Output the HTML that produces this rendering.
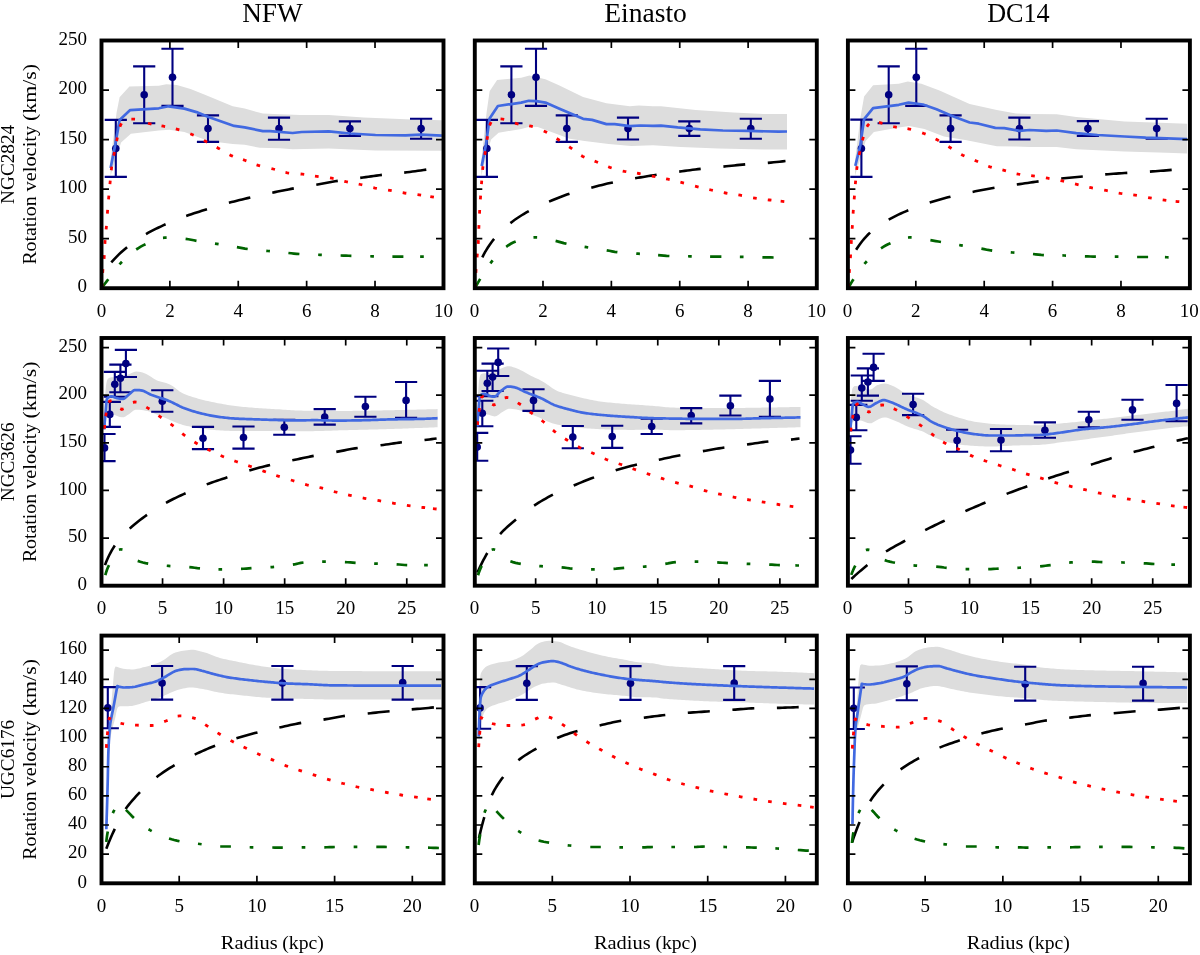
<!DOCTYPE html>
<html><head><meta charset="utf-8"><title>Rotation curves</title>
<style>
html,body{margin:0;padding:0;background:#fff;}
body{width:1200px;height:955px;overflow:hidden;}
svg{display:block;will-change:transform;}
svg text{font-family:"Liberation Serif",serif;fill:#000;}
</style></head><body>
<svg width="1200" height="955" viewBox="0 0 1200 955">
<rect width="1200" height="955" fill="#ffffff"/>
<defs>
<clipPath id="c00"><rect x="101.5" y="40.5" width="342" height="247.7"/></clipPath>
<clipPath id="c01"><rect x="474.8" y="40.5" width="342" height="247.7"/></clipPath>
<clipPath id="c02"><rect x="847.9" y="40.5" width="342" height="247.7"/></clipPath>
<clipPath id="c10"><rect x="101.5" y="338" width="342" height="247.7"/></clipPath>
<clipPath id="c11"><rect x="474.8" y="338" width="342" height="247.7"/></clipPath>
<clipPath id="c12"><rect x="847.9" y="338" width="342" height="247.7"/></clipPath>
<clipPath id="c20"><rect x="101.5" y="635.6" width="342" height="247.7"/></clipPath>
<clipPath id="c21"><rect x="474.8" y="635.6" width="342" height="247.7"/></clipPath>
<clipPath id="c22"><rect x="847.9" y="635.6" width="342" height="247.7"/></clipPath>
</defs>
<g clip-path="url(#c00)">
<path d="M110.6 160 L111.3 154.6 L116.6 112.4 L119.6 97.3 L129.4 86.4 L158.8 85.7 L166.3 84.2 L176.9 84.9 L190.5 89 L205.5 95 L232.7 106.3 L244.7 108.6 L262.8 113.6 L280 114.2 L300.2 115 L328.8 115 L363.5 117.6 L405.7 119.2 L441.9 120.2 L441.9 150.8 L375.5 150.5 L328.8 148.5 L292.6 149.2 L280 148.2 L259.8 147.8 L244.7 144.8 L232.7 144 L208.5 141 L196.5 136.5 L184.4 132 L169.3 129.7 L158.8 130.5 L130.9 133.8 L121.1 142.5 L115.1 160.6 L110.6 175.7 Z" fill="#dddddd" stroke="none"/>
<path d="M115.8 119.9 V176.9 M104.7 119.9 H126.9 M104.7 176.9 H126.9 M144.2 66.4 V123.2 M133.1 66.4 H155.3 M133.1 123.2 H155.3 M172.5 48.7 V105.9 M161.4 48.7 H183.6 M161.4 105.9 H183.6 M208 115.4 V141.9 M196.9 115.4 H219.1 M196.9 141.9 H219.1 M279 117.6 V139.8 M267.9 117.6 H290.1 M267.9 139.8 H290.1 M349.9 121.4 V135.9 M338.8 121.4 H361 M338.8 135.9 H361 M421.1 118.7 V138.7 M410 118.7 H432.2 M410 138.7 H432.2" fill="none" stroke="#000080" stroke-width="2.1"/>
<circle cx="115.8" cy="148.5" r="3.8" fill="#000080"/>
<circle cx="144.2" cy="94.7" r="3.8" fill="#000080"/>
<circle cx="172.5" cy="77.2" r="3.8" fill="#000080"/>
<circle cx="208" cy="128.6" r="3.8" fill="#000080"/>
<circle cx="279" cy="128.5" r="3.8" fill="#000080"/>
<circle cx="349.9" cy="128.6" r="3.8" fill="#000080"/>
<circle cx="421.1" cy="128.6" r="3.8" fill="#000080"/>
<path d="M110.6 168.1 L115.1 145.5 L119.6 119.9 L130.2 110.1 L158.8 108.3 L168.6 106.3 L184.4 108.6 L196.5 112.1 L208.5 116.9 L234.2 125.9 L244.7 127.4 L262.8 131.1 L270 131.2 L292.6 133 L301.7 132 L328.8 131.4 L349.9 133.5 L375.5 135 L405.7 135.3 L420.8 134.7 L441.9 135.6" fill="none" stroke="#4169e1" stroke-width="2.7" stroke-linejoin="round"/>
<path d="M111.3 262.3 L113.15 260.28 L115.03 258.3 L116.95 256.35 L118.91 254.44 L120.9 252.57 L122.93 250.74 L125 248.95 L127.1 247.2 M146 234.1 L148.38 232.74 L150.79 231.43 L153.22 230.17 L155.67 228.94 L158.13 227.74 L160.61 226.57 L163.1 225.43 L165.6 224.3 M186.2 216 L188.78 215.08 L191.36 214.19 L193.96 213.33 L196.56 212.48 L199.17 211.64 L201.77 210.82 L204.39 210.01 L207 209.2 M228.9 202.8 L231.56 202.09 L234.23 201.4 L236.9 200.72 L239.58 200.06 L242.25 199.41 L244.93 198.76 L247.62 198.13 L250.3 197.5 M272.3 192.7 L274.98 192.14 L277.67 191.58 L280.35 191.03 L283.04 190.48 L285.72 189.94 L288.41 189.41 L291.1 188.9 L293.8 188.4 M316.3 184.7 L318.99 184.23 L321.67 183.74 L324.36 183.25 L327.04 182.75 L329.73 182.26 L332.41 181.79 L335.1 181.33 L337.8 180.9 M360.2 177.9 L362.91 177.52 L365.62 177.14 L368.33 176.74 L371.04 176.35 L373.75 175.97 L376.47 175.59 L379.18 175.23 L381.9 174.9 M404.2 172.6 L406.97 172.27 L409.73 171.92 L412.5 171.57 L415.26 171.19 L418.02 170.81 L420.78 170.42 L423.54 170.01 L426.3 169.6" fill="none" stroke="#000" stroke-width="2.6"/>
<path d="M101.8 287.8 L103.42 285.65 L105.04 283.49 L106.67 281.35 L108.3 279.2 M119.47 264.46 L120.7 263.1 L121.96 261.77 M136.2 249.5 L138.44 248.02 L140.73 246.64 L143.08 245.35 L145.5 244.2 M162.97 237.79 L164.8 237.7 L166.63 237.71 M185.6 238.9 L188.34 239.26 L191.07 239.75 L193.78 240.3 L196.5 240.8 M214.99 243.62 L216.8 243.9 L218.61 244.19 M236.9 247.2 L239.6 247.67 L242.29 248.15 L244.99 248.61 L247.7 249 M266.27 250.82 L268.1 251 L269.93 251.18 M288.4 253 L291.15 253.27 L293.9 253.55 L296.65 253.8 L299.4 254 M318.17 254.74 L320 254.8 L321.83 254.87 M340.6 255.5 L343.3 255.58 L346 255.66 L348.7 255.73 L351.4 255.8 M370.27 256.26 L372.1 256.3 L373.93 256.33 M392.4 256.6 L395.15 256.6 L397.9 256.6 L400.65 256.6 L403.4 256.6 M420.13 256.67 L421.97 256.69 L423.8 256.7" fill="none" stroke="#006400" stroke-width="2.7"/>
<path d="M101.9 287.5 L101.96 285.67 L102.04 283.83 M102.67 272.83 L102.8 271 L102.95 269.17 M104.05 258.83 L104.2 257 L104.32 255.17 M104.89 243.83 L105 242 L105.13 240.17 M106.14 229.43 L106.3 227.6 L106.45 225.77 M107.36 213.63 L107.5 211.8 L107.65 209.97 M108.54 199.33 L108.7 197.5 L108.86 195.67 M109.92 184.23 L110.1 182.4 L110.27 180.57 M111.28 170.22 L111.5 168.4 L111.75 166.58 M113.74 155.64 L114.11 153.84 L114.48 152.04 M116.64 141.13 L117.01 139.33 L117.38 137.54 M119.94 126.71 L120.6 125 L121.47 123.38 M131.37 119.11 L133.2 119.1 L135.03 119.21 M147.92 123.24 L149.7 123.7 L151.5 124.08 M161.5 125.86 L163.3 126.2 L165.1 126.56 M175.82 128.84 L177.6 129.3 L179.36 129.8 M190.31 133.79 L192 134.5 L193.68 135.24 M203.88 140.45 L205.5 141.3 L207.13 142.15 M216.69 147.31 L218.3 148.2 L219.89 149.12 M229.54 154.83 L231.2 155.6 L232.9 156.29 M242.97 159.6 L244.7 160.2 L246.42 160.84 M256.55 164.84 L258.3 165.4 L260.07 165.9 M271.42 168.56 L273.2 169 L274.97 169.48 M285.49 172.49 L287.3 172.8 L289.12 173.03 M300.58 174.01 L302.4 174.2 L304.22 174.43 M314.98 176.14 L316.8 176.4 L318.62 176.63 M329.99 177.93 L331.8 178.2 L333.6 178.53 M344.31 181.28 L346.1 181.7 L347.9 182.08 M358.7 184.12 L360.5 184.5 L362.29 184.91 M373.3 187.74 L375.1 188.1 L376.91 188.42 M388.09 190.02 L389.9 190.3 L391.71 190.61 M402.69 192.71 L404.5 193 L406.32 193.25 M417.48 194.56 L419.3 194.8 L421.12 195.06 M430.29 196.55 L432.1 196.87 L433.9 197.2" fill="none" stroke="#ff0000" stroke-width="2.8"/>
</g>
<path d="M101.5 288.2 v-7.5 M101.5 40.5 v7.5 M169.88 288.2 v-7.5 M169.88 40.5 v7.5 M238.26 288.2 v-7.5 M238.26 40.5 v7.5 M306.64 288.2 v-7.5 M306.64 40.5 v7.5 M375.02 288.2 v-7.5 M375.02 40.5 v7.5 M443.4 288.2 v-7.5 M443.4 40.5 v7.5 M101.5 288.2 h7.5 M443.5 288.2 h-7.5 M101.5 238.66 h7.5 M443.5 238.66 h-7.5 M101.5 189.12 h7.5 M443.5 189.12 h-7.5 M101.5 139.58 h7.5 M443.5 139.58 h-7.5 M101.5 90.04 h7.5 M443.5 90.04 h-7.5 M101.5 40.5 h7.5 M443.5 40.5 h-7.5" fill="none" stroke="#000" stroke-width="1.7"/>
<rect x="101.5" y="40.5" width="342" height="247.7" fill="none" stroke="#000" stroke-width="3.9"/>
<text x="101.5" y="317" font-size="19.7" text-anchor="middle" textLength="9.5" lengthAdjust="spacingAndGlyphs">0</text>
<text x="169.88" y="317" font-size="19.7" text-anchor="middle" textLength="9.5" lengthAdjust="spacingAndGlyphs">2</text>
<text x="238.26" y="317" font-size="19.7" text-anchor="middle" textLength="9.5" lengthAdjust="spacingAndGlyphs">4</text>
<text x="306.64" y="317" font-size="19.7" text-anchor="middle" textLength="9.5" lengthAdjust="spacingAndGlyphs">6</text>
<text x="375.02" y="317" font-size="19.7" text-anchor="middle" textLength="9.5" lengthAdjust="spacingAndGlyphs">8</text>
<text x="443.4" y="317" font-size="19.7" text-anchor="middle" textLength="19" lengthAdjust="spacingAndGlyphs">10</text>
<text x="87" y="292.4" font-size="19.7" text-anchor="end" textLength="9.5" lengthAdjust="spacingAndGlyphs">0</text>
<text x="87" y="242.86" font-size="19.7" text-anchor="end" textLength="19" lengthAdjust="spacingAndGlyphs">50</text>
<text x="87" y="193.32" font-size="19.7" text-anchor="end" textLength="28.5" lengthAdjust="spacingAndGlyphs">100</text>
<text x="87" y="143.78" font-size="19.7" text-anchor="end" textLength="28.5" lengthAdjust="spacingAndGlyphs">150</text>
<text x="87" y="94.24" font-size="19.7" text-anchor="end" textLength="28.5" lengthAdjust="spacingAndGlyphs">200</text>
<text x="87" y="44.7" font-size="19.7" text-anchor="end" textLength="28.5" lengthAdjust="spacingAndGlyphs">250</text>
<text x="272.45" y="22" font-size="26.5" text-anchor="middle" textLength="60.5" lengthAdjust="spacingAndGlyphs">NFW</text>
<g clip-path="url(#c01)">
<path d="M481.3 160.6 L486.6 112.4 L489.6 91.3 L497.1 80 L521.2 77.7 L529.5 75.4 L545.4 79.2 L558.9 85.2 L583.1 97 L606.4 103.3 L629.8 106.3 L638.8 105.6 L653 106.3 L661 106.3 L695.8 110.1 L733.5 112.4 L763.6 113.9 L787 113.9 L787 149.6 L763.6 149.6 L718.4 148.5 L680.7 147 L653 145.2 L631.3 146 L608.7 144 L584.6 141 L569.5 138.8 L551.4 132 L537.8 127.1 L529.5 126.7 L521.2 129 L498.6 132.7 L491.1 139.5 L486.6 154.6 L481.3 175.7 Z" fill="#dddddd" stroke="none"/>
<path d="M486.9 119.9 V176.9 M475.8 119.9 H498 M475.8 176.9 H498 M511.4 66.4 V123.2 M500.3 66.4 H522.5 M500.3 123.2 H522.5 M536 48.7 V105.9 M524.9 48.7 H547.1 M524.9 105.9 H547.1 M566.8 115.4 V141.9 M555.7 115.4 H577.9 M555.7 141.9 H577.9 M628 117.6 V139.5 M616.9 117.6 H639.1 M616.9 139.5 H639.1 M689.3 121.4 V135.9 M678.2 121.4 H700.4 M678.2 135.9 H700.4 M750.8 118.7 V138.7 M739.7 118.7 H761.9 M739.7 138.7 H761.9" fill="none" stroke="#000080" stroke-width="2.1"/>
<circle cx="486.9" cy="148.5" r="3.8" fill="#000080"/>
<circle cx="511.4" cy="94.7" r="3.8" fill="#000080"/>
<circle cx="536" cy="77.2" r="3.8" fill="#000080"/>
<circle cx="566.8" cy="128.6" r="3.8" fill="#000080"/>
<circle cx="628" cy="128.6" r="3.8" fill="#000080"/>
<circle cx="689.3" cy="128.6" r="3.8" fill="#000080"/>
<circle cx="750.8" cy="128.6" r="3.8" fill="#000080"/>
<path d="M481.7 165.9 L485.8 145.5 L489.6 118.4 L497.9 106 L521.2 102.6 L528.8 100.8 L536.3 101.1 L545.4 102.6 L558.9 108.6 L583.1 118.8 L592.1 119.9 L606.4 124.1 L614.7 124.1 L629.8 126.2 L640.3 125.5 L653 125.9 L661 125.6 L677.7 127.4 L700.3 129.3 L722.9 130.5 L748.5 130.9 L778.7 131.7 L787 131.5" fill="none" stroke="#4169e1" stroke-width="2.7" stroke-linejoin="round"/>
<path d="M482.3 257.3 L483.55 254.86 L484.87 252.46 L486.25 250.1 L487.7 247.78 L489.21 245.49 L490.78 243.25 L492.41 241.05 L494.1 238.9 M510.4 223.1 L512.58 221.42 L514.8 219.8 L517.06 218.24 L519.35 216.72 L521.67 215.25 L524.03 213.83 L526.4 212.44 L528.8 211.1 M549.1 201.6 L551.62 200.53 L554.14 199.48 L556.67 198.44 L559.21 197.42 L561.76 196.44 L564.33 195.48 L566.91 194.57 L569.5 193.7 M591.3 187.7 L593.99 187 L596.68 186.3 L599.37 185.61 L602.07 184.93 L604.77 184.26 L607.47 183.61 L610.18 182.99 L612.9 182.4 M635.1 178.3 L637.78 177.84 L640.47 177.38 L643.15 176.94 L645.84 176.49 L648.53 176.06 L651.22 175.63 L653.91 175.21 L656.6 174.8 M679.2 171.6 L681.89 171.24 L684.57 170.88 L687.26 170.52 L689.94 170.17 L692.63 169.82 L695.32 169.48 L698.01 169.16 L700.7 168.85 M723.4 166.6 L726.12 166.32 L728.85 166.02 L731.57 165.72 L734.29 165.42 L737.02 165.13 L739.74 164.85 L742.47 164.59 L745.2 164.35 M767.8 162.85 L770.75 162.6 L773.71 162.32 L776.66 162.03 L779.61 161.72 L782.55 161.39 L785.5 161.05" fill="none" stroke="#000" stroke-width="2.6"/>
<path d="M475.1 287.8 L476.34 285.55 L477.59 283.32 L478.88 281.1 L480.2 278.9 M490.37 263.35 L491.5 261.9 L492.65 260.47 M506.2 246.8 L508.44 245.24 L510.76 243.79 L513.17 242.52 L515.7 241.5 M533.47 237.45 L535.3 237.4 L537.13 237.45 M555.6 240.9 L558.34 241.58 L561.05 242.35 L563.76 243.13 L566.5 243.8 M584.59 246.91 L586.4 247.2 L588.21 247.49 M606.7 250.3 L609.37 250.79 L612.04 251.33 L614.71 251.82 L617.4 252.2 M636.27 253.57 L638.1 253.7 L639.93 253.83 M658.1 255.1 L660.92 255.35 L663.75 255.62 L666.57 255.86 L669.4 256 M688.07 256.27 L689.9 256.3 L691.73 256.33 M710.1 256.6 L712.92 256.63 L715.75 256.65 L718.57 256.68 L721.4 256.7 M739.87 256.88 L741.7 256.9 L743.53 256.93 M762.4 257.3 L765.2 257.35 L768 257.4 L770.8 257.45 L773.6 257.5" fill="none" stroke="#006400" stroke-width="2.7"/>
<path d="M475.1 287.5 L475.18 285.67 L475.27 283.83 M475.88 272.83 L476 271 L476.12 269.17 M477.05 257.33 L477.2 255.5 L477.35 253.67 M478.19 243.83 L478.3 242 L478.39 240.17 M478.83 228.73 L478.9 226.9 L478.98 225.07 M479.5 213.63 L479.6 211.8 L479.7 209.97 M480.38 199.33 L480.5 197.5 L480.62 195.67 M481.46 184.23 L481.6 182.4 L481.74 180.57 M482.61 169.93 L482.8 168.1 L483.02 166.28 M484.82 154.91 L485.1 153.1 L485.36 151.28 M487 139.81 L487.3 138 L487.6 136.19 M489.67 125.42 L490.3 123.7 L491.17 122.09 M500.57 118.91 L502.4 119.1 L504.21 119.41 M514.93 123.22 L516.7 123.7 L518.5 124.07 M529.21 125.81 L531 126.2 L532.77 126.67 M543.74 130.92 L545.4 131.7 L547.04 132.52 M556.66 138.51 L558.2 139.5 L559.75 140.49 M569.19 146.76 L570.7 147.8 L572.19 148.87 M581.2 155.5 L582.8 156.4 L584.45 157.21 M594.59 161.13 L596.3 161.8 L597.99 162.51 M608.17 166.79 L609.9 167.4 L611.64 167.97 M622.7 171.03 L624.5 171.4 L626.31 171.72 M636.99 173.21 L638.8 173.5 L640.61 173.81 M651.8 176.04 L653.6 176.4 L655.4 176.75 M666.1 178.82 L667.9 179.2 L669.69 179.59 M680.42 182.15 L682.2 182.6 L683.98 183.06 M695.02 186.14 L696.8 186.6 L698.58 187.05 M709.31 189.6 L711.1 190 L712.89 190.4 M723.79 192.67 L725.6 193 L727.41 193.3 M738.39 194.9 L740.2 195.2 L742 195.54 M753.09 197.9 L754.9 198.2 L756.72 198.47 M767.78 199.79 L769.6 200 L771.42 200.21 M780.65 201.22 L782.47 201.41 L784.3 201.6" fill="none" stroke="#ff0000" stroke-width="2.8"/>
</g>
<path d="M474.6 288.2 v-7.5 M474.6 40.5 v7.5 M542.98 288.2 v-7.5 M542.98 40.5 v7.5 M611.36 288.2 v-7.5 M611.36 40.5 v7.5 M679.74 288.2 v-7.5 M679.74 40.5 v7.5 M748.12 288.2 v-7.5 M748.12 40.5 v7.5 M816.5 288.2 v-7.5 M816.5 40.5 v7.5 M474.8 288.2 h7.5 M816.8 288.2 h-7.5 M474.8 238.66 h7.5 M816.8 238.66 h-7.5 M474.8 189.12 h7.5 M816.8 189.12 h-7.5 M474.8 139.58 h7.5 M816.8 139.58 h-7.5 M474.8 90.04 h7.5 M816.8 90.04 h-7.5 M474.8 40.5 h7.5 M816.8 40.5 h-7.5" fill="none" stroke="#000" stroke-width="1.7"/>
<rect x="474.8" y="40.5" width="342" height="247.7" fill="none" stroke="#000" stroke-width="3.9"/>
<text x="474.6" y="317" font-size="19.7" text-anchor="middle" textLength="9.5" lengthAdjust="spacingAndGlyphs">0</text>
<text x="542.98" y="317" font-size="19.7" text-anchor="middle" textLength="9.5" lengthAdjust="spacingAndGlyphs">2</text>
<text x="611.36" y="317" font-size="19.7" text-anchor="middle" textLength="9.5" lengthAdjust="spacingAndGlyphs">4</text>
<text x="679.74" y="317" font-size="19.7" text-anchor="middle" textLength="9.5" lengthAdjust="spacingAndGlyphs">6</text>
<text x="748.12" y="317" font-size="19.7" text-anchor="middle" textLength="9.5" lengthAdjust="spacingAndGlyphs">8</text>
<text x="816.5" y="317" font-size="19.7" text-anchor="middle" textLength="19" lengthAdjust="spacingAndGlyphs">10</text>
<text x="645.55" y="22" font-size="26.5" text-anchor="middle" textLength="82.7" lengthAdjust="spacingAndGlyphs">Einasto</text>
<g clip-path="url(#c02)">
<path d="M855 160.6 L860.3 118.4 L864.1 96.5 L873.1 85.2 L898.8 83.7 L907.8 81.5 L921.4 83.7 L939.5 90.5 L969.6 104.1 L996.8 110.1 L1016 113.4 L1029.6 113.9 L1056.7 114.2 L1076.3 116.9 L1124.5 121.4 L1166.8 122.9 L1187.1 123.7 L1187.1 153.4 L1166.8 152.8 L1124.5 151.6 L1076.3 149.3 L1056.7 147 L1029.6 147 L1016 146.5 L996.8 146.3 L966.6 140.3 L944 136.5 L924.4 129 L909.3 125.9 L898.8 127.4 L873.9 132 L865.6 141 L861.1 156.1 L855 175.7 Z" fill="#dddddd" stroke="none"/>
<path d="M861.4 119.6 V176.9 M850.3 119.6 H872.5 M850.3 176.9 H872.5 M888.7 66.4 V123.2 M877.6 66.4 H899.8 M877.6 123.2 H899.8 M916.3 48.7 V105.9 M905.2 48.7 H927.4 M905.2 105.9 H927.4 M950.6 115.4 V141.9 M939.5 115.4 H961.7 M939.5 141.9 H961.7 M1019.4 117.6 V139.5 M1008.3 117.6 H1030.5 M1008.3 139.5 H1030.5 M1087.9 121.1 V135.9 M1076.8 121.1 H1099 M1076.8 135.9 H1099 M1156.7 118.7 V138.7 M1145.6 118.7 H1167.8 M1145.6 138.7 H1167.8" fill="none" stroke="#000080" stroke-width="2.1"/>
<circle cx="861.4" cy="148.5" r="3.8" fill="#000080"/>
<circle cx="888.7" cy="94.7" r="3.8" fill="#000080"/>
<circle cx="916.3" cy="77.2" r="3.8" fill="#000080"/>
<circle cx="950.6" cy="128.6" r="3.8" fill="#000080"/>
<circle cx="1019.4" cy="128.6" r="3.8" fill="#000080"/>
<circle cx="1087.9" cy="128.6" r="3.8" fill="#000080"/>
<circle cx="1156.7" cy="128.6" r="3.8" fill="#000080"/>
<path d="M855.3 165.9 L860.3 145.5 L864.1 119.1 L873.1 108.1 L898.8 104.8 L908.6 102.6 L922.9 104.5 L936.5 109.3 L951.5 115.8 L969.6 122.5 L978.7 123.7 L995.3 127.9 L1004.3 128.2 L1019.4 130.8 L1029.6 130 L1046.2 130.8 L1056.7 130.5 L1076.3 133.2 L1097.4 135 L1124.5 136.5 L1145.7 137.7 L1166.8 138.3 L1187.1 139.1" fill="none" stroke="#4169e1" stroke-width="2.7" stroke-linejoin="round"/>
<path d="M856.1 249.8 L857.59 247.45 L859.16 245.16 L860.8 242.91 L862.52 240.72 L864.3 238.59 L866.16 236.53 L868.09 234.53 L870.1 232.6 M888.7 219.6 L891.07 218.29 L893.48 217.03 L895.91 215.81 L898.35 214.65 L900.82 213.51 L903.3 212.42 L905.8 211.35 L908.3 210.3 M929.7 202.5 L932.28 201.7 L934.86 200.92 L937.45 200.16 L940.05 199.43 L942.66 198.72 L945.27 198.02 L947.88 197.35 L950.5 196.7 M972.6 191.9 L975.33 191.34 L978.06 190.79 L980.8 190.24 L983.53 189.7 L986.27 189.17 L989.01 188.66 L991.75 188.17 L994.5 187.7 M1016.8 184.5 L1019.52 184.11 L1022.25 183.72 L1024.97 183.32 L1027.7 182.93 L1030.42 182.54 L1033.15 182.15 L1035.87 181.77 L1038.6 181.4 M1061.2 178.5 L1063.9 178.23 L1066.6 177.97 L1069.3 177.73 L1072 177.49 L1074.7 177.26 L1077.4 177.03 L1080.1 176.79 L1082.8 176.55 M1105.2 174.4 L1107.96 174.19 L1110.72 173.98 L1113.48 173.79 L1116.25 173.6 L1119.01 173.42 L1121.77 173.25 L1124.54 173.07 L1127.3 172.9 M1149.9 171.6 L1152.63 171.41 L1155.35 171.22 L1158.08 171.02 L1160.8 170.81 L1163.53 170.59 L1166.25 170.37 L1168.98 170.14 L1171.7 169.9" fill="none" stroke="#000" stroke-width="2.6"/>
<path d="M848.5 287.8 L849.69 285.62 L850.92 283.45 L852.18 281.31 L853.5 279.2 M864.4 263.99 L865.6 262.6 L866.82 261.23 M881 248.3 L883.27 246.84 L885.62 245.5 L888.03 244.28 L890.5 243.2 M907.97 237.48 L909.8 237.4 L911.63 237.44 M930.4 240.2 L933.05 240.63 L935.7 241.08 L938.35 241.54 L941 242 M959.19 245 L961 245.3 L962.81 245.6 M981.4 248.7 L984.1 249.19 L986.79 249.71 L989.49 250.2 L992.2 250.6 M1010.77 252.35 L1012.6 252.5 L1014.43 252.65 M1033 254 L1035.72 254.29 L1038.44 254.62 L1041.17 254.92 L1043.9 255.1 M1062.37 255.46 L1064.2 255.5 L1066.03 255.55 M1084.9 256.3 L1087.65 256.39 L1090.4 256.48 L1093.15 256.56 L1095.9 256.6 M1114.77 256.69 L1116.6 256.7 L1118.43 256.72 M1137.1 257 L1139.85 257 L1142.6 257 L1145.35 257 L1148.1 257 M1164.93 257.21 L1166.77 257.26 L1168.6 257.3" fill="none" stroke="#006400" stroke-width="2.7"/>
<path d="M848.5 287.5 L848.58 285.67 L848.67 283.83 M849.29 272.83 L849.4 271 L849.52 269.17 M850.38 258.13 L850.5 256.3 L850.61 254.47 M851.19 243.83 L851.3 242 L851.41 240.17 M852.18 228.73 L852.3 226.9 L852.41 225.07 M853.08 213.63 L853.2 211.8 L853.33 209.97 M854.16 199.33 L854.3 197.5 L854.44 195.67 M855.34 184.23 L855.5 182.4 L855.66 180.57 M856.68 169.92 L856.9 168.1 L857.15 166.28 M859.24 154.9 L859.6 153.1 L859.96 151.3 M862.41 140.47 L862.9 138.7 L863.39 136.93 M866.9 126.74 L867.9 125.2 L869.13 123.84 M878.92 122.46 L880.7 122.9 L882.48 123.35 M893.21 126.61 L895 127 L896.81 127.31 M907.49 128.68 L909.3 129 L911.09 129.38 M922.18 132.86 L923.9 133.5 L925.61 134.17 M935.58 138.94 L937.2 139.8 L938.81 140.68 M948.44 146.54 L950 147.5 L951.56 148.46 M961.18 154.44 L962.8 155.3 L964.45 156.1 M974.71 160.35 L976.4 161.05 L978.08 161.79 M988.26 166.26 L990 166.85 L991.76 167.38 M1002.42 169.96 L1004.2 170.4 L1005.97 170.88 M1016.6 173.81 L1018.4 174.15 L1020.21 174.43 M1031.18 175.67 L1033 175.9 L1034.82 176.15 M1045.89 177.89 L1047.7 178.2 L1049.51 178.51 M1060.5 180.53 L1062.3 180.9 L1064.09 181.29 M1075.02 183.97 L1076.8 184.4 L1078.59 184.82 M1089.3 187.32 L1091.1 187.7 L1092.9 188.05 M1104.2 190.06 L1106 190.4 L1107.8 190.76 M1118.69 193.1 L1120.5 193.4 L1122.32 193.66 M1133.28 194.95 L1135.1 195.2 L1136.91 195.48 M1148.09 197.59 L1149.9 197.9 L1151.71 198.2 M1162.68 199.86 L1164.5 200.1 L1166.32 200.33 M1175.65 201.36 L1177.47 201.54 L1179.3 201.7" fill="none" stroke="#ff0000" stroke-width="2.8"/>
</g>
<path d="M847.45 288.2 v-7.5 M847.45 40.5 v7.5 M915.83 288.2 v-7.5 M915.83 40.5 v7.5 M984.21 288.2 v-7.5 M984.21 40.5 v7.5 M1052.59 288.2 v-7.5 M1052.59 40.5 v7.5 M1120.97 288.2 v-7.5 M1120.97 40.5 v7.5 M1189.35 288.2 v-7.5 M1189.35 40.5 v7.5 M847.9 288.2 h7.5 M1189.9 288.2 h-7.5 M847.9 238.66 h7.5 M1189.9 238.66 h-7.5 M847.9 189.12 h7.5 M1189.9 189.12 h-7.5 M847.9 139.58 h7.5 M1189.9 139.58 h-7.5 M847.9 90.04 h7.5 M1189.9 90.04 h-7.5 M847.9 40.5 h7.5 M1189.9 40.5 h-7.5" fill="none" stroke="#000" stroke-width="1.7"/>
<rect x="847.9" y="40.5" width="342" height="247.7" fill="none" stroke="#000" stroke-width="3.9"/>
<text x="847.45" y="317" font-size="19.7" text-anchor="middle" textLength="9.5" lengthAdjust="spacingAndGlyphs">0</text>
<text x="915.83" y="317" font-size="19.7" text-anchor="middle" textLength="9.5" lengthAdjust="spacingAndGlyphs">2</text>
<text x="984.21" y="317" font-size="19.7" text-anchor="middle" textLength="9.5" lengthAdjust="spacingAndGlyphs">4</text>
<text x="1052.59" y="317" font-size="19.7" text-anchor="middle" textLength="9.5" lengthAdjust="spacingAndGlyphs">6</text>
<text x="1120.97" y="317" font-size="19.7" text-anchor="middle" textLength="9.5" lengthAdjust="spacingAndGlyphs">8</text>
<text x="1189.35" y="317" font-size="19.7" text-anchor="middle" textLength="19" lengthAdjust="spacingAndGlyphs">10</text>
<text x="1018.4" y="22" font-size="26.5" text-anchor="middle" textLength="62.5" lengthAdjust="spacingAndGlyphs">DC14</text>
<text transform="translate(14.1 164.35) rotate(-90)" font-size="19" text-anchor="middle" textLength="79.2" lengthAdjust="spacingAndGlyphs">NGC2824</text>
<text transform="translate(36.4 164.35) rotate(-90)" x="-100.25" font-size="19" textLength="68.3" lengthAdjust="spacingAndGlyphs">Rotation</text>
<text transform="translate(36.4 164.35) rotate(-90)" x="-27.05" font-size="19" textLength="65.5" lengthAdjust="spacingAndGlyphs">velocity</text>
<text transform="translate(36.4 164.35) rotate(-90)" x="43.35" font-size="19" textLength="57.1" lengthAdjust="spacingAndGlyphs">(km/s)</text>
<g clip-path="url(#c10)">
<path d="M104.2 420.4 L104.21 418.4 L104.22 416.39 L104.25 414.39 L104.29 412.39 L104.35 410.39 L104.41 408.39 L104.49 406.38 L104.58 404.38 L104.68 402.38 L104.79 400.38 L104.92 398.39 L105.06 396.39 L105.21 394.39 L105.37 392.39 L105.55 390.4 L105.73 388.41 L105.94 386.41 L106.18 384.43 L106.54 382.46 L107.05 380.52 L107.85 378.69 L109.54 377.73 L111.51 377.37 L113.5 377.13 L115.48 376.88 L117.46 376.54 L119.43 376.2 L121.41 375.87 L123.38 375.53 L125.35 375.15 L127.3 374.73 L129.23 374.2 L131.05 373.36 L132.82 372.42 L134.66 371.64 L136.64 371.41 L138.63 371.63 L140.59 372.04 L142.52 372.56 L144.44 373.14 L146.28 373.92 L148.03 374.89 L149.72 375.97 L151.38 377.09 L153.05 378.2 L154.75 379.25 L156.53 380.17 L158.39 380.91 L160.3 381.51 L162.23 382.04 L164.17 382.54 L166.1 383.08 L168.01 383.7 L169.86 384.45 L171.62 385.41 L173.29 386.52 L174.89 387.72 L176.46 388.96 L178.04 390.19 L179.65 391.38 L181.33 392.47 L183.11 393.4 L184.94 394.21 L186.79 394.96 L188.67 395.67 L190.56 396.33 L192.46 396.95 L194.37 397.55 L196.29 398.11 L198.22 398.66 L200.15 399.19 L202.09 399.69 L204.03 400.18 L205.98 400.65 L207.93 401.1 L209.89 401.53 L211.85 401.95 L213.81 402.35 L215.77 402.74 L217.74 403.13 L219.7 403.5 L221.67 403.87 L223.64 404.24 L225.61 404.59 L227.59 404.93 L229.56 405.25 L231.54 405.55 L233.53 405.83 L235.51 406.08 L237.5 406.31 L239.5 406.52 L241.49 406.72 L243.48 406.91 L245.48 407.09 L247.47 407.27 L249.47 407.43 L251.46 407.59 L253.46 407.75 L255.46 407.89 L257.46 408.04 L259.45 408.18 L261.45 408.32 L263.45 408.44 L265.45 408.57 L267.45 408.68 L269.45 408.8 L271.45 408.91 L273.45 409.02 L275.45 409.14 L277.45 409.25 L279.44 409.37 L281.44 409.49 L283.44 409.63 L285.44 409.77 L287.44 409.92 L289.43 410.07 L291.43 410.21 L293.43 410.34 L295.43 410.45 L297.43 410.53 L299.43 410.59 L301.44 410.62 L303.44 410.64 L305.44 410.67 L307.44 410.69 L309.45 410.71 L311.45 410.73 L313.45 410.75 L315.45 410.77 L317.46 410.79 L319.46 410.8 L321.46 410.82 L323.46 410.83 L325.47 410.84 L327.47 410.85 L329.47 410.86 L331.47 410.87 L333.48 410.88 L335.48 410.89 L337.48 410.89 L339.49 410.89 L341.49 410.9 L343.49 410.9 L345.49 410.9 L347.5 410.9 L349.5 410.89 L351.5 410.88 L353.5 410.86 L355.51 410.84 L357.51 410.82 L359.51 410.79 L361.52 410.77 L363.52 410.73 L365.52 410.7 L367.52 410.66 L369.52 410.63 L371.53 410.59 L373.53 410.55 L375.53 410.51 L377.53 410.46 L379.54 410.42 L381.54 410.38 L383.54 410.34 L385.54 410.3 L387.55 410.26 L389.55 410.22 L391.55 410.18 L393.55 410.14 L395.55 410.1 L397.56 410.06 L399.56 410.02 L401.56 409.98 L403.56 409.94 L405.57 409.9 L407.57 409.85 L409.57 409.81 L411.57 409.76 L413.58 409.71 L415.58 409.67 L417.58 409.62 L419.58 409.57 L421.58 409.52 L423.59 409.47 L425.59 409.42 L427.59 409.37 L429.59 409.32 L431.59 409.26 L433.6 409.21 L435.6 409.15 L437.6 409.1 L437.6 427.2 L435.59 427.29 L433.58 427.38 L431.58 427.46 L429.57 427.55 L427.56 427.63 L425.55 427.72 L423.54 427.8 L421.54 427.88 L419.53 427.96 L417.52 428.04 L415.51 428.12 L413.5 428.2 L411.49 428.28 L409.49 428.35 L407.48 428.43 L405.47 428.5 L403.46 428.57 L401.45 428.64 L399.44 428.71 L397.43 428.78 L395.42 428.84 L393.42 428.91 L391.41 428.97 L389.4 429.04 L387.39 429.1 L385.38 429.16 L383.37 429.22 L381.36 429.27 L379.35 429.33 L377.34 429.39 L375.33 429.44 L373.33 429.49 L371.32 429.55 L369.31 429.6 L367.3 429.65 L365.29 429.7 L363.28 429.75 L361.27 429.8 L359.26 429.85 L357.25 429.9 L355.24 429.95 L353.23 430 L351.22 430.05 L349.21 430.1 L347.21 430.15 L345.2 430.21 L343.19 430.26 L341.18 430.32 L339.17 430.37 L337.16 430.44 L335.15 430.5 L333.14 430.56 L331.13 430.63 L329.12 430.69 L327.12 430.76 L325.11 430.82 L323.1 430.88 L321.09 430.94 L319.08 431 L317.07 431.05 L315.06 431.1 L313.05 431.15 L311.04 431.19 L309.03 431.23 L307.02 431.25 L305.01 431.28 L303 431.29 L300.99 431.3 L298.98 431.29 L296.97 431.27 L294.96 431.22 L292.96 431.15 L290.95 431.08 L288.94 431.01 L286.93 430.94 L284.92 430.87 L282.91 430.83 L280.9 430.8 L278.89 430.8 L276.88 430.81 L274.87 430.83 L272.86 430.85 L270.85 430.88 L268.84 430.9 L266.83 430.93 L264.82 430.96 L262.81 430.98 L260.8 430.99 L258.79 431 L256.78 431 L254.77 431 L252.76 431 L250.76 431 L248.75 431 L246.74 431 L244.73 431 L242.72 431 L240.71 431 L238.7 431 L236.69 431 L234.68 431 L232.67 430.97 L230.66 430.93 L228.65 430.87 L226.64 430.79 L224.63 430.69 L222.63 430.58 L220.62 430.45 L218.61 430.31 L216.61 430.17 L214.61 430.01 L212.6 429.84 L210.6 429.67 L208.6 429.49 L206.6 429.3 L204.6 429.11 L202.6 428.88 L200.61 428.62 L198.62 428.31 L196.64 427.97 L194.66 427.61 L192.69 427.21 L190.73 426.79 L188.77 426.35 L186.81 425.88 L184.86 425.4 L182.91 424.9 L180.98 424.36 L179.07 423.73 L177.18 423.05 L175.31 422.31 L173.46 421.54 L171.61 420.74 L169.78 419.92 L167.94 419.1 L166.1 418.28 L164.26 417.49 L162.4 416.72 L160.53 415.99 L158.65 415.26 L156.79 414.5 L154.94 413.73 L153.08 412.97 L151.2 412.25 L149.3 411.6 L147.37 411.05 L145.4 410.63 L143.42 410.31 L141.43 410.02 L139.43 409.78 L137.43 409.63 L135.42 409.69 L133.6 410.51 L132.01 411.74 L130.49 413.05 L128.87 414.24 L127.17 415.3 L125.49 416.4 L123.66 417.24 L121.67 417.34 L119.72 416.89 L117.82 416.22 L115.95 415.49 L114.05 414.84 L112.08 414.44 L110.08 414.53 L108.15 415.08 L106.57 416.24 L105.74 418.07 L105.2 420 L104.83 421.98 L104.57 423.97 L104.39 425.97 L104.28 427.98 L104.22 429.99 L104.2 432 Z" fill="#dddddd" stroke="none"/>
<path d="M104.5 434 V461.1 M93.4 434 H115.6 M93.4 461.1 H115.6 M109.8 401.9 V426.9 M98.7 401.9 H120.9 M98.7 426.9 H120.9 M114.8 371.9 V396.8 M103.7 371.9 H125.9 M103.7 396.8 H125.9 M120.4 364.6 V392.2 M109.3 364.6 H131.5 M109.3 392.2 H131.5 M125.9 349.9 V377 M114.8 349.9 H137 M114.8 377 H137 M162.3 390.3 V411.8 M151.2 390.3 H173.4 M151.2 411.8 H173.4 M203 426.9 V449.1 M191.9 426.9 H214.1 M191.9 449.1 H214.1 M243.5 426.5 V448.6 M232.4 426.5 H254.6 M232.4 448.6 H254.6 M284.3 419.7 V434.7 M273.2 419.7 H295.4 M273.2 434.7 H295.4 M324.7 409.1 V424.6 M313.6 409.1 H335.8 M313.6 424.6 H335.8 M365.4 396.8 V416.7 M354.3 396.8 H376.5 M354.3 416.7 H376.5 M406.1 382 V417.9 M395 382 H417.2 M395 417.9 H417.2" fill="none" stroke="#000080" stroke-width="2.1"/>
<circle cx="104.5" cy="447.9" r="3.8" fill="#000080"/>
<circle cx="109.8" cy="414.4" r="3.8" fill="#000080"/>
<circle cx="114.8" cy="384.2" r="3.8" fill="#000080"/>
<circle cx="120.4" cy="378.2" r="3.8" fill="#000080"/>
<circle cx="125.9" cy="363.6" r="3.8" fill="#000080"/>
<circle cx="162.3" cy="401.3" r="3.8" fill="#000080"/>
<circle cx="203" cy="438.2" r="3.8" fill="#000080"/>
<circle cx="243.5" cy="437.5" r="3.8" fill="#000080"/>
<circle cx="284.3" cy="427.2" r="3.8" fill="#000080"/>
<circle cx="324.7" cy="417" r="3.8" fill="#000080"/>
<circle cx="365.4" cy="406.6" r="3.8" fill="#000080"/>
<circle cx="406.1" cy="400.4" r="3.8" fill="#000080"/>
<path d="M104.2 429.5 L104.3 428 L104.4 426.5 L104.51 425.01 L104.62 423.51 L104.74 422.01 L104.86 420.52 L104.99 419.02 L105.12 417.53 L105.26 416.03 L105.4 414.54 L105.54 413.04 L105.69 411.55 L105.82 410.05 L105.93 408.56 L106.03 407.06 L106.14 405.56 L106.26 404.06 L106.41 402.57 L106.61 401.08 L106.9 399.61 L107.42 398.22 L108.57 397.25 L109.91 396.59 L111.38 396.3 L112.84 396.61 L114.22 397.2 L115.6 397.8 L117.04 398.19 L118.51 398.5 L119.99 398.76 L121.48 398.95 L122.98 398.97 L124.37 398.43 L125.56 397.53 L126.66 396.5 L127.75 395.47 L128.94 394.55 L130.07 393.57 L131.15 392.52 L132.25 391.5 L133.45 390.61 L134.84 390.05 L136.34 390.01 L137.84 390.08 L139.33 390.18 L140.83 390.31 L142.3 390.6 L143.72 391.07 L145.1 391.68 L146.43 392.37 L147.75 393.08 L149.08 393.78 L150.43 394.44 L151.82 395 L153.23 395.52 L154.64 396.02 L156.06 396.51 L157.49 396.98 L158.91 397.45 L160.34 397.92 L161.77 398.39 L163.19 398.86 L164.61 399.35 L166.03 399.85 L167.44 400.37 L168.83 400.91 L170.22 401.49 L171.59 402.11 L172.94 402.76 L174.28 403.44 L175.61 404.12 L176.95 404.81 L178.29 405.5 L179.63 406.16 L180.99 406.79 L182.37 407.39 L183.77 407.94 L185.17 408.47 L186.58 409 L187.99 409.51 L189.41 410 L190.83 410.48 L192.26 410.94 L193.69 411.39 L195.13 411.81 L196.58 412.22 L198.03 412.61 L199.48 412.98 L200.94 413.35 L202.39 413.71 L203.85 414.05 L205.32 414.39 L206.78 414.72 L208.25 415.04 L209.72 415.34 L211.19 415.63 L212.67 415.91 L214.15 416.17 L215.63 416.41 L217.11 416.63 L218.6 416.84 L220.09 417.04 L221.57 417.24 L223.06 417.42 L224.55 417.6 L226.04 417.78 L227.54 417.94 L229.03 418.09 L230.53 418.23 L232.02 418.35 L233.52 418.46 L235.02 418.56 L236.52 418.64 L238.01 418.72 L239.51 418.78 L241.01 418.85 L242.51 418.91 L244.01 418.96 L245.51 419.01 L247.01 419.06 L248.52 419.1 L250.02 419.15 L251.52 419.19 L253.02 419.24 L254.52 419.28 L256.02 419.33 L257.52 419.37 L259.02 419.42 L260.52 419.48 L262.02 419.53 L263.52 419.58 L265.02 419.63 L266.52 419.68 L268.02 419.73 L269.52 419.78 L271.02 419.83 L272.52 419.88 L274.02 419.93 L275.52 419.97 L277.02 420.02 L278.52 420.06 L280.02 420.1 L281.52 420.14 L283.02 420.19 L284.53 420.24 L286.03 420.28 L287.53 420.33 L289.03 420.36 L290.53 420.39 L292.03 420.4 L293.53 420.4 L295.03 420.39 L296.53 420.38 L298.03 420.37 L299.53 420.36 L301.04 420.34 L302.54 420.32 L304.04 420.3 L305.54 420.28 L307.04 420.26 L308.54 420.24 L310.04 420.23 L311.54 420.21 L313.04 420.21 L314.55 420.2 L316.05 420.2 L317.55 420.21 L319.05 420.23 L320.55 420.26 L322.05 420.29 L323.55 420.32 L325.05 420.36 L326.55 420.4 L328.05 420.44 L329.55 420.48 L331.05 420.51 L332.56 420.55 L334.06 420.57 L335.56 420.59 L337.06 420.6 L338.56 420.6 L340.06 420.6 L341.56 420.59 L343.06 420.58 L344.56 420.56 L346.06 420.54 L347.57 420.52 L349.07 420.5 L350.57 420.48 L352.07 420.45 L353.57 420.43 L355.07 420.4 L356.57 420.37 L358.07 420.34 L359.57 420.32 L361.07 420.29 L362.58 420.26 L364.08 420.22 L365.58 420.18 L367.08 420.14 L368.58 420.1 L370.08 420.05 L371.58 420 L373.08 419.95 L374.58 419.9 L376.08 419.84 L377.58 419.79 L379.08 419.74 L380.58 419.69 L382.08 419.64 L383.58 419.59 L385.08 419.54 L386.58 419.5 L388.08 419.46 L389.58 419.42 L391.08 419.39 L392.58 419.36 L394.09 419.33 L395.59 419.31 L397.09 419.28 L398.59 419.26 L400.09 419.24 L401.59 419.22 L403.09 419.2 L404.59 419.18 L406.09 419.16 L407.59 419.14 L409.1 419.12 L410.6 419.09 L412.1 419.07 L413.6 419.05 L415.1 419.02 L416.6 418.99 L418.1 418.96 L419.6 418.93 L421.1 418.89 L422.6 418.85 L424.1 418.8 L425.6 418.75 L427.1 418.69 L428.6 418.63 L430.1 418.56 L431.6 418.5 L433.1 418.42 L434.6 418.35 L436.1 418.28 L437.6 418.2" fill="none" stroke="#4169e1" stroke-width="2.7" stroke-linejoin="round"/>
<path d="M105 565.1 L105.96 562.53 L107 559.99 L108.12 557.48 L109.32 555.01 L110.59 552.57 L111.92 550.18 L113.33 547.82 L114.8 545.5 M129.7 528.6 L131.73 526.73 L133.82 524.92 L135.95 523.16 L138.11 521.45 L140.3 519.77 L142.52 518.13 L144.75 516.5 L147 514.9 M166 502.8 L168.4 501.5 L170.81 500.23 L173.25 499 L175.7 497.8 L178.16 496.62 L180.63 495.47 L183.11 494.33 L185.6 493.2 M206.7 484.4 L209.27 483.45 L211.84 482.53 L214.42 481.62 L217.01 480.74 L219.61 479.87 L222.2 479.01 L224.8 478.15 L227.4 477.3 M249.3 470.4 L251.89 469.67 L254.48 468.96 L257.07 468.26 L259.67 467.57 L262.27 466.9 L264.87 466.25 L267.49 465.62 L270.1 465 M292.3 460.35 L294.97 459.78 L297.65 459.21 L300.32 458.63 L302.99 458.05 L305.66 457.48 L308.34 456.92 L311.02 456.37 L313.7 455.85 M336.3 451.9 L338.97 451.4 L341.65 450.89 L344.31 450.36 L346.98 449.83 L349.65 449.31 L352.33 448.82 L355.01 448.36 L357.7 447.95 M380.5 445.3 L383.18 444.94 L385.85 444.57 L388.52 444.17 L391.2 443.78 L393.87 443.38 L396.54 443 L399.22 442.63 L401.9 442.3 M424.5 440 L426.92 439.72 L429.34 439.43 L431.76 439.13 L434.18 438.82 L436.6 438.5" fill="none" stroke="#000" stroke-width="2.6"/>
<path d="M105.3 575.2 L106.04 572.61 L106.9 570.06 L107.89 567.55 L109 565.1 M118.95 549.78 L120.7 549.3 L122.48 549.68 M137.7 560.9 L140.27 561.76 L142.89 562.49 L145.53 563.1 L148.2 563.6 M166.77 565.76 L168.6 565.9 L170.43 566.03 M189.3 567.1 L191.98 567.39 L194.65 567.77 L197.32 568.13 L200 568.4 M218.47 569.29 L220.3 569.3 L222.13 569.3 M241 568.9 L243.63 568.76 L246.25 568.54 L248.87 568.3 L251.5 568.1 M270.47 567.22 L272.3 567.1 L274.13 566.96 M292.9 564.6 L295.55 564.08 L298.18 563.45 L300.82 562.87 L303.5 562.5 M322.17 561.61 L324 561.6 L325.83 561.61 M344.9 562.1 L347.58 562.24 L350.25 562.43 L352.92 562.63 L355.6 562.8 M374.17 563.53 L376 563.6 L377.83 563.66 M396.6 564.3 L399.25 564.5 L401.9 564.76 L404.54 565 L407.2 565.1 M424.13 565.1 L425.96 565.1 L427.8 565.1" fill="none" stroke="#006400" stroke-width="2.7"/>
<path d="M104.5 428.7 L104.56 426.87 L104.67 425.03 M105.72 416.21 L106 414.4 L106.27 412.59 M108.64 402.49 L109.8 401.1 L111.57 400.64 M120.27 408.64 L121.9 409.4 L123.61 408.8 M132.9 402.31 L134.7 402 L136.52 402.19 M146.32 407.16 L147.9 408.1 L149.47 409.04 M158.51 415.63 L160 416.7 L161.51 417.74 M170.62 423.91 L172.1 425 L173.54 426.13 M182.25 433.57 L183.7 434.7 L185.17 435.79 M194.43 442.05 L196 443 L197.58 443.93 M207.46 449.13 L209.1 449.95 L210.74 450.77 M220.62 455.52 L222.3 456.25 L224 456.95 M234.37 460.83 L236.1 461.45 L237.83 462.06 M248.27 465.6 L250 466.2 L251.73 466.82 M262.47 470.78 L264.2 471.4 L265.93 472.01 M276.25 475.49 L278 476.05 L279.75 476.6 M290.84 479.97 L292.6 480.5 L294.35 481.05 M305.13 484.43 L306.9 484.9 L308.69 485.32 M319.51 487.49 L321.3 487.9 L323.08 488.35 M333.83 491.53 L335.6 492 L337.38 492.45 M348.11 494.91 L349.9 495.3 L351.69 495.69 M362.7 497.97 L364.5 498.3 L366.31 498.62 M377.49 500.4 L379.3 500.7 L381.11 501.01 M392.09 502.99 L393.9 503.3 L395.71 503.6 M406.88 505.34 L408.7 505.6 L410.52 505.85 M421.48 507.28 L423.3 507.5 L425.12 507.72 M432.95 508.61 L434.78 508.81 L436.6 509" fill="none" stroke="#ff0000" stroke-width="2.8"/>
</g>
<path d="M101.5 585.7 v-7.5 M101.5 338 v7.5 M162.55 585.7 v-7.5 M162.55 338 v7.5 M223.61 585.7 v-7.5 M223.61 338 v7.5 M284.66 585.7 v-7.5 M284.66 338 v7.5 M345.71 585.7 v-7.5 M345.71 338 v7.5 M406.77 585.7 v-7.5 M406.77 338 v7.5 M101.5 585.7 h7.5 M443.5 585.7 h-7.5 M101.5 538.07 h7.5 M443.5 538.07 h-7.5 M101.5 490.43 h7.5 M443.5 490.43 h-7.5 M101.5 442.8 h7.5 M443.5 442.8 h-7.5 M101.5 395.16 h7.5 M443.5 395.16 h-7.5 M101.5 347.53 h7.5 M443.5 347.53 h-7.5" fill="none" stroke="#000" stroke-width="1.7"/>
<rect x="101.5" y="338" width="342" height="247.7" fill="none" stroke="#000" stroke-width="3.9"/>
<text x="101.5" y="614" font-size="19.7" text-anchor="middle" textLength="9.5" lengthAdjust="spacingAndGlyphs">0</text>
<text x="162.55" y="614" font-size="19.7" text-anchor="middle" textLength="9.5" lengthAdjust="spacingAndGlyphs">5</text>
<text x="223.61" y="614" font-size="19.7" text-anchor="middle" textLength="19" lengthAdjust="spacingAndGlyphs">10</text>
<text x="284.66" y="614" font-size="19.7" text-anchor="middle" textLength="19" lengthAdjust="spacingAndGlyphs">15</text>
<text x="345.71" y="614" font-size="19.7" text-anchor="middle" textLength="19" lengthAdjust="spacingAndGlyphs">20</text>
<text x="406.77" y="614" font-size="19.7" text-anchor="middle" textLength="19" lengthAdjust="spacingAndGlyphs">25</text>
<text x="87" y="589.9" font-size="19.7" text-anchor="end" textLength="9.5" lengthAdjust="spacingAndGlyphs">0</text>
<text x="87" y="542.27" font-size="19.7" text-anchor="end" textLength="19" lengthAdjust="spacingAndGlyphs">50</text>
<text x="87" y="494.63" font-size="19.7" text-anchor="end" textLength="28.5" lengthAdjust="spacingAndGlyphs">100</text>
<text x="87" y="447" font-size="19.7" text-anchor="end" textLength="28.5" lengthAdjust="spacingAndGlyphs">150</text>
<text x="87" y="399.36" font-size="19.7" text-anchor="end" textLength="28.5" lengthAdjust="spacingAndGlyphs">200</text>
<text x="87" y="351.73" font-size="19.7" text-anchor="end" textLength="28.5" lengthAdjust="spacingAndGlyphs">250</text>
<g clip-path="url(#c11)">
<path d="M477.2 420 L477.2 417.99 L477.22 415.99 L477.24 413.98 L477.27 411.97 L477.31 409.97 L477.36 407.96 L477.42 405.95 L477.49 403.95 L477.56 401.94 L477.65 399.94 L477.75 397.93 L477.86 395.93 L477.98 393.93 L478.11 391.92 L478.25 389.92 L478.41 387.92 L478.57 385.92 L478.74 383.92 L478.93 381.92 L479.16 379.93 L479.5 377.95 L479.99 376.01 L480.78 374.17 L482.57 373.45 L484.57 373.29 L486.57 373.18 L488.58 373.02 L490.56 372.72 L492.49 372.19 L494.37 371.48 L496.21 370.68 L498.04 369.86 L499.88 369.06 L501.76 368.35 L503.61 367.59 L505.47 366.82 L507.4 366.28 L509.4 366.25 L511.37 366.61 L513.3 367.19 L515.19 367.86 L517.08 368.53 L518.93 369.29 L520.74 370.16 L522.51 371.11 L524.25 372.11 L525.98 373.12 L527.72 374.12 L529.49 375.08 L531.28 375.98 L533.1 376.83 L534.93 377.66 L536.76 378.49 L538.58 379.33 L540.38 380.2 L542.16 381.13 L543.9 382.14 L545.57 383.25 L547.2 384.41 L548.82 385.61 L550.43 386.8 L552.06 387.97 L553.74 389.07 L555.47 390.08 L557.28 390.95 L559.15 391.69 L561.04 392.37 L562.94 392.99 L564.86 393.57 L566.8 394.11 L568.74 394.62 L570.68 395.12 L572.63 395.6 L574.58 396.07 L576.53 396.55 L578.48 397.03 L580.43 397.5 L582.38 397.97 L584.33 398.43 L586.29 398.87 L588.25 399.31 L590.21 399.72 L592.18 400.12 L594.15 400.49 L596.13 400.85 L598.11 401.17 L600.09 401.46 L602.08 401.73 L604.08 401.97 L606.07 402.2 L608.07 402.41 L610.06 402.61 L612.06 402.8 L614.06 402.98 L616.06 403.16 L618.06 403.32 L620.06 403.49 L622.06 403.66 L624.06 403.82 L626.06 403.98 L628.06 404.14 L630.06 404.29 L632.06 404.43 L634.06 404.57 L636.07 404.71 L638.07 404.85 L640.07 404.98 L642.07 405.12 L644.08 405.25 L646.08 405.39 L648.08 405.53 L650.08 405.68 L652.08 405.83 L654.08 405.99 L656.08 406.17 L658.08 406.37 L660.08 406.58 L662.07 406.79 L664.07 406.99 L666.07 407.18 L668.07 407.34 L670.07 407.47 L672.07 407.57 L674.08 407.62 L676.09 407.66 L678.09 407.7 L680.1 407.74 L682.11 407.78 L684.11 407.81 L686.12 407.84 L688.13 407.87 L690.13 407.9 L692.14 407.93 L694.15 407.95 L696.15 407.98 L698.16 408 L700.17 408.02 L702.17 408.03 L704.18 408.05 L706.19 408.06 L708.19 408.07 L710.2 408.08 L712.21 408.09 L714.21 408.1 L716.22 408.1 L718.23 408.1 L720.23 408.1 L722.24 408.09 L724.25 408.09 L726.26 408.08 L728.26 408.06 L730.27 408.05 L732.28 408.03 L734.28 408.01 L736.29 407.99 L738.3 407.96 L740.3 407.94 L742.31 407.91 L744.32 407.88 L746.32 407.86 L748.33 407.83 L750.34 407.8 L752.34 407.77 L754.35 407.74 L756.36 407.71 L758.36 407.68 L760.37 407.65 L762.38 407.62 L764.38 407.59 L766.39 407.56 L768.4 407.53 L770.4 407.5 L772.41 407.46 L774.42 407.43 L776.42 407.39 L778.43 407.36 L780.44 407.32 L782.44 407.28 L784.45 407.24 L786.46 407.2 L788.46 407.16 L790.47 407.12 L792.47 407.08 L794.48 407.03 L796.49 406.99 L798.49 406.94 L800.5 406.9 L800.5 427.2 L798.49 427.26 L796.49 427.32 L794.48 427.39 L792.47 427.45 L790.47 427.51 L788.46 427.57 L786.45 427.63 L784.45 427.69 L782.44 427.75 L780.43 427.81 L778.43 427.87 L776.42 427.93 L774.41 427.99 L772.41 428.05 L770.4 428.11 L768.39 428.16 L766.39 428.22 L764.38 428.28 L762.37 428.33 L760.37 428.39 L758.36 428.45 L756.35 428.51 L754.35 428.57 L752.34 428.62 L750.33 428.68 L748.33 428.74 L746.32 428.8 L744.31 428.86 L742.31 428.91 L740.3 428.97 L738.29 429.02 L736.29 429.08 L734.28 429.13 L732.27 429.18 L730.27 429.23 L728.26 429.28 L726.25 429.33 L724.25 429.38 L722.24 429.42 L720.23 429.46 L718.22 429.5 L716.22 429.54 L714.21 429.58 L712.2 429.63 L710.2 429.67 L708.19 429.71 L706.18 429.75 L704.18 429.8 L702.17 429.84 L700.16 429.88 L698.15 429.92 L696.15 429.95 L694.14 429.99 L692.13 430.02 L690.13 430.06 L688.12 430.09 L686.11 430.11 L684.1 430.14 L682.1 430.16 L680.09 430.17 L678.08 430.19 L676.07 430.2 L674.07 430.2 L672.06 430.19 L670.05 430.15 L668.04 430.09 L666.04 430 L664.03 429.9 L662.03 429.79 L660.02 429.7 L658.02 429.61 L656.01 429.54 L654.01 429.51 L652 429.5 L649.99 429.52 L647.98 429.55 L645.98 429.6 L643.97 429.65 L641.96 429.71 L639.96 429.76 L637.95 429.81 L635.94 429.85 L633.93 429.88 L631.93 429.9 L629.92 429.9 L627.91 429.89 L625.9 429.87 L623.9 429.84 L621.89 429.81 L619.88 429.77 L617.88 429.73 L615.87 429.68 L613.86 429.63 L611.86 429.58 L609.85 429.53 L607.84 429.48 L605.83 429.41 L603.83 429.34 L601.82 429.26 L599.82 429.17 L597.81 429.07 L595.81 428.96 L593.8 428.84 L591.8 428.72 L589.8 428.59 L587.79 428.45 L585.79 428.3 L583.79 428.14 L581.79 427.98 L579.79 427.81 L577.79 427.64 L575.79 427.44 L573.8 427.22 L571.8 426.98 L569.81 426.72 L567.83 426.43 L565.84 426.12 L563.86 425.79 L561.89 425.43 L559.92 425.05 L557.95 424.65 L555.99 424.22 L554.04 423.73 L552.12 423.13 L550.23 422.46 L548.37 421.72 L546.52 420.94 L544.69 420.11 L542.87 419.27 L541.05 418.43 L539.22 417.59 L537.39 416.77 L535.54 415.98 L533.68 415.24 L531.8 414.53 L529.93 413.79 L528.07 413.04 L526.21 412.3 L524.33 411.59 L522.42 410.95 L520.49 410.4 L518.53 409.96 L516.56 409.61 L514.58 409.29 L512.59 409.02 L510.59 408.84 L508.58 408.84 L506.68 409.45 L504.94 410.45 L503.27 411.57 L501.56 412.62 L499.89 413.73 L498.29 414.95 L496.58 415.99 L494.64 416.39 L492.67 416.03 L490.77 415.38 L488.86 414.76 L486.89 414.41 L484.89 414.5 L482.9 414.81 L480.96 415.31 L479.37 416.45 L478.55 418.27 L478.04 420.21 L477.7 422.19 L477.46 424.18 L477.31 426.19 L477.23 428.19 L477.2 430.2 Z" fill="#dddddd" stroke="none"/>
<path d="M477.2 432.9 V460.7 M466.1 432.9 H488.3 M466.1 460.7 H488.3 M482.3 400.8 V426.2 M471.2 400.8 H493.4 M471.2 426.2 H493.4 M487.3 370.7 V396.3 M476.2 370.7 H498.4 M476.2 396.3 H498.4 M492.6 363.6 V391 M481.5 363.6 H503.7 M481.5 391 H503.7 M498.2 348.5 V376 M487.1 348.5 H509.3 M487.1 376 H509.3 M533.5 389.2 V410.9 M522.4 389.2 H544.6 M522.4 410.9 H544.6 M572.8 426 V448.3 M561.7 426 H583.9 M561.7 448.3 H583.9 M612.2 425.7 V447.9 M601.1 425.7 H623.3 M601.1 447.9 H623.3 M651.7 418.6 V434 M640.6 418.6 H662.8 M640.6 434 H662.8 M691.2 408.1 V423.4 M680.1 408.1 H702.3 M680.1 423.4 H702.3 M730.4 395.6 V415.5 M719.3 395.6 H741.5 M719.3 415.5 H741.5 M769.9 380.9 V416.7 M758.8 380.9 H781 M758.8 416.7 H781" fill="none" stroke="#000080" stroke-width="2.1"/>
<circle cx="477.2" cy="447.1" r="3.8" fill="#000080"/>
<circle cx="482.3" cy="413.3" r="3.8" fill="#000080"/>
<circle cx="487.3" cy="383.2" r="3.8" fill="#000080"/>
<circle cx="492.6" cy="377" r="3.8" fill="#000080"/>
<circle cx="498.2" cy="362.4" r="3.8" fill="#000080"/>
<circle cx="533.5" cy="400.4" r="3.8" fill="#000080"/>
<circle cx="572.8" cy="437" r="3.8" fill="#000080"/>
<circle cx="612.2" cy="436.6" r="3.8" fill="#000080"/>
<circle cx="651.7" cy="426.5" r="3.8" fill="#000080"/>
<circle cx="691.2" cy="415.5" r="3.8" fill="#000080"/>
<circle cx="730.4" cy="405.7" r="3.8" fill="#000080"/>
<circle cx="769.9" cy="399" r="3.8" fill="#000080"/>
<path d="M477.2 426.5 L477.3 425 L477.4 423.5 L477.51 421.99 L477.62 420.49 L477.74 418.99 L477.87 417.49 L478 415.99 L478.13 414.49 L478.26 412.99 L478.4 411.49 L478.55 410 L478.69 408.5 L478.82 407 L478.93 405.5 L479.03 403.99 L479.14 402.49 L479.25 400.99 L479.4 399.49 L479.6 398 L479.9 396.52 L480.52 395.18 L481.78 394.37 L483.2 393.86 L484.69 393.73 L486.11 394.21 L487.43 394.93 L488.76 395.62 L490.21 396.04 L491.68 396.34 L493.17 396.55 L494.67 396.54 L496.02 395.89 L497.14 394.89 L498.15 393.77 L499.14 392.64 L500.2 391.56 L501.39 390.64 L502.56 389.7 L503.73 388.75 L504.93 387.84 L506.22 387.07 L507.64 386.57 L509.14 386.52 L510.64 386.65 L512.13 386.87 L513.61 387.13 L515.09 387.43 L516.53 387.85 L517.94 388.39 L519.31 389.01 L520.66 389.68 L521.99 390.37 L523.33 391.05 L524.69 391.71 L526.07 392.31 L527.47 392.87 L528.87 393.42 L530.27 393.96 L531.68 394.49 L533.09 395.02 L534.5 395.55 L535.91 396.09 L537.31 396.64 L538.7 397.2 L540.09 397.79 L541.46 398.4 L542.82 399.06 L544.15 399.76 L545.48 400.47 L546.79 401.2 L548.11 401.93 L549.43 402.65 L550.77 403.35 L552.12 404.01 L553.49 404.63 L554.89 405.19 L556.3 405.71 L557.72 406.2 L559.15 406.67 L560.59 407.13 L562.03 407.56 L563.48 407.97 L564.93 408.38 L566.38 408.77 L567.84 409.16 L569.29 409.54 L570.75 409.92 L572.21 410.29 L573.67 410.66 L575.13 411.02 L576.6 411.36 L578.06 411.7 L579.54 412.02 L581.01 412.32 L582.49 412.6 L583.97 412.86 L585.46 413.1 L586.95 413.32 L588.44 413.53 L589.93 413.72 L591.43 413.91 L592.92 414.09 L594.42 414.26 L595.91 414.42 L597.41 414.58 L598.91 414.73 L600.41 414.88 L601.91 415.02 L603.4 415.15 L604.9 415.28 L606.4 415.41 L607.9 415.53 L609.41 415.66 L610.91 415.78 L612.41 415.89 L613.91 416 L615.41 416.11 L616.91 416.21 L618.41 416.31 L619.92 416.41 L621.42 416.51 L622.92 416.6 L624.42 416.7 L625.93 416.79 L627.43 416.88 L628.93 416.96 L630.44 417.05 L631.94 417.14 L633.44 417.22 L634.94 417.31 L636.45 417.4 L637.95 417.49 L639.45 417.58 L640.96 417.66 L642.46 417.75 L643.96 417.83 L645.47 417.9 L646.97 417.97 L648.47 418.04 L649.98 418.1 L651.48 418.15 L652.99 418.2 L654.49 418.24 L656 418.28 L657.5 418.32 L659.01 418.35 L660.51 418.39 L662.02 418.42 L663.52 418.45 L665.03 418.47 L666.53 418.5 L668.04 418.52 L669.54 418.55 L671.05 418.57 L672.55 418.59 L674.06 418.61 L675.57 418.63 L677.07 418.65 L678.58 418.67 L680.08 418.7 L681.59 418.72 L683.09 418.74 L684.6 418.76 L686.1 418.78 L687.61 418.79 L689.11 418.81 L690.62 418.83 L692.12 418.84 L693.63 418.86 L695.13 418.87 L696.64 418.88 L698.15 418.89 L699.65 418.89 L701.16 418.9 L702.66 418.9 L704.17 418.9 L705.67 418.9 L707.18 418.9 L708.68 418.9 L710.19 418.9 L711.69 418.9 L713.2 418.9 L714.71 418.9 L716.21 418.9 L717.72 418.9 L719.22 418.9 L720.73 418.9 L722.23 418.9 L723.74 418.9 L725.24 418.9 L726.75 418.9 L728.26 418.9 L729.76 418.9 L731.27 418.9 L732.77 418.9 L734.28 418.9 L735.78 418.89 L737.29 418.88 L738.79 418.86 L740.3 418.84 L741.8 418.81 L743.31 418.77 L744.81 418.74 L746.32 418.7 L747.82 418.66 L749.33 418.61 L750.83 418.57 L752.34 418.52 L753.84 418.47 L755.35 418.43 L756.85 418.38 L758.36 418.34 L759.86 418.29 L761.37 418.25 L762.87 418.22 L764.38 418.18 L765.88 418.15 L767.39 418.12 L768.89 418.08 L770.4 418.05 L771.9 418.01 L773.41 417.98 L774.91 417.95 L776.42 417.92 L777.92 417.88 L779.43 417.85 L780.93 417.82 L782.44 417.78 L783.94 417.75 L785.45 417.72 L786.95 417.69 L788.46 417.65 L789.96 417.62 L791.47 417.59 L792.97 417.56 L794.48 417.53 L795.98 417.49 L797.49 417.46 L798.99 417.43 L800.5 417.4" fill="none" stroke="#4169e1" stroke-width="2.7" stroke-linejoin="round"/>
<path d="M477.5 572.6 L478.59 570.08 L479.71 567.58 L480.88 565.11 L482.09 562.64 L483.34 560.2 L484.62 557.78 L485.94 555.38 L487.3 553 M500.1 534.2 L501.91 532.17 L503.8 530.22 L505.75 528.32 L507.75 526.48 L509.78 524.68 L511.84 522.91 L513.92 521.15 L516 519.4 M534.1 505.6 L536.38 504.12 L538.68 502.67 L541 501.26 L543.34 499.88 L545.7 498.53 L548.08 497.22 L550.48 495.94 L552.9 494.7 M573.7 485.5 L576.23 484.44 L578.77 483.38 L581.3 482.33 L583.85 481.29 L586.4 480.27 L588.95 479.27 L591.52 478.3 L594.1 477.35 M615.65 470.3 L618.3 469.52 L620.95 468.75 L623.6 468 L626.26 467.26 L628.93 466.54 L631.6 465.84 L634.27 465.16 L636.95 464.5 M658.8 459.75 L661.5 459.17 L664.19 458.59 L666.89 458 L669.59 457.42 L672.29 456.85 L674.99 456.29 L677.69 455.74 L680.4 455.2 M702.9 451.15 L705.58 450.68 L708.27 450.21 L710.95 449.75 L713.64 449.29 L716.33 448.83 L719.02 448.39 L721.71 447.96 L724.4 447.55 M747 444.5 L749.67 444.12 L752.35 443.72 L755.02 443.32 L757.69 442.92 L760.36 442.52 L763.04 442.15 L765.72 441.81 L768.4 441.5 M791 439.6 L793.84 439.27 L796.67 438.9 L799.5 438.5" fill="none" stroke="#000" stroke-width="2.6"/>
<path d="M478 575.2 L478.79 572.82 L479.66 570.48 L480.63 568.16 L481.7 565.9 M491.66 549.8 L493.4 549.3 L495.18 549.7 M510.4 561.3 L512.95 562.14 L515.54 562.84 L518.16 563.42 L520.8 563.9 M539.27 566.05 L541.1 566.2 L542.93 566.33 M561.6 567.4 L564.33 567.68 L567.05 568.03 L569.77 568.37 L572.5 568.6 M591.07 569.29 L592.9 569.3 L594.73 569.3 M613.5 568.9 L616.18 568.71 L618.86 568.41 L621.52 568.07 L624.2 567.8 M642.87 566.74 L644.7 566.6 L646.53 566.44 M665.3 563.9 L667.95 563.42 L670.58 562.87 L673.23 562.38 L675.9 562.1 M694.67 561.6 L696.5 561.6 L698.33 561.61 M717.2 562.4 L719.88 562.56 L722.55 562.75 L725.22 562.94 L727.9 563.1 M746.67 563.83 L748.5 563.9 L750.33 563.96 M769.2 564.6 L771.88 564.72 L774.55 564.86 L777.22 565 L779.9 565.1 M795.33 565.47 L797.17 565.49 L799 565.5" fill="none" stroke="#006400" stroke-width="2.7"/>
<path d="M477.5 424.9 L477.65 423.07 L477.83 421.24 M479.03 411.71 L479.3 409.9 L479.54 408.08 M481.07 398.15 L482 396.6 L483.77 396.15 M492.21 404.18 L493.8 405 L495.51 404.39 M504.7 397.84 L506.5 397.5 L508.32 397.71 M517.75 402.82 L519.3 403.8 L520.85 404.79 M529.84 411.79 L531.3 412.9 L532.78 413.98 M541.65 420.37 L543.1 421.5 L544.52 422.66 M552.97 430.15 L554.4 431.3 L555.86 432.41 M564.96 438.71 L566.5 439.7 L568.05 440.68 M577.97 446.56 L579.6 447.4 L581.25 448.2 M591.22 452.51 L592.9 453.25 L594.57 454.01 M604.7 458.75 L606.4 459.45 L608.11 460.11 M618.67 463.7 L620.4 464.3 L622.13 464.91 M632.57 468.64 L634.3 469.25 L636.03 469.85 M646.76 473.52 L648.5 474.1 L650.24 474.68 M660.85 478.15 L662.6 478.7 L664.35 479.24 M675.13 482.42 L676.9 482.9 L678.68 483.36 M689.43 485.93 L691.2 486.4 L692.97 486.9 M703.83 490.31 L705.6 490.8 L707.38 491.27 M718.11 493.8 L719.9 494.2 L721.69 494.6 M732.7 496.95 L734.5 497.3 L736.3 497.64 M747.19 499.5 L749 499.8 L750.81 500.1 M761.79 501.91 L763.6 502.2 L765.41 502.49 M776.59 504.23 L778.4 504.5 L780.22 504.77 M789.66 506.11 L791.48 506.36 L793.3 506.6" fill="none" stroke="#ff0000" stroke-width="2.8"/>
</g>
<path d="M474.6 585.7 v-7.5 M474.6 338 v7.5 M535.65 585.7 v-7.5 M535.65 338 v7.5 M596.71 585.7 v-7.5 M596.71 338 v7.5 M657.76 585.7 v-7.5 M657.76 338 v7.5 M718.81 585.7 v-7.5 M718.81 338 v7.5 M779.87 585.7 v-7.5 M779.87 338 v7.5 M474.8 585.7 h7.5 M816.8 585.7 h-7.5 M474.8 538.07 h7.5 M816.8 538.07 h-7.5 M474.8 490.43 h7.5 M816.8 490.43 h-7.5 M474.8 442.8 h7.5 M816.8 442.8 h-7.5 M474.8 395.16 h7.5 M816.8 395.16 h-7.5 M474.8 347.53 h7.5 M816.8 347.53 h-7.5" fill="none" stroke="#000" stroke-width="1.7"/>
<rect x="474.8" y="338" width="342" height="247.7" fill="none" stroke="#000" stroke-width="3.9"/>
<text x="474.6" y="614" font-size="19.7" text-anchor="middle" textLength="9.5" lengthAdjust="spacingAndGlyphs">0</text>
<text x="535.65" y="614" font-size="19.7" text-anchor="middle" textLength="9.5" lengthAdjust="spacingAndGlyphs">5</text>
<text x="596.71" y="614" font-size="19.7" text-anchor="middle" textLength="19" lengthAdjust="spacingAndGlyphs">10</text>
<text x="657.76" y="614" font-size="19.7" text-anchor="middle" textLength="19" lengthAdjust="spacingAndGlyphs">15</text>
<text x="718.81" y="614" font-size="19.7" text-anchor="middle" textLength="19" lengthAdjust="spacingAndGlyphs">20</text>
<text x="779.87" y="614" font-size="19.7" text-anchor="middle" textLength="19" lengthAdjust="spacingAndGlyphs">25</text>
<g clip-path="url(#c12)">
<path d="M850.2 425 L850.2 422.99 L850.21 420.99 L850.23 418.98 L850.25 416.98 L850.28 414.97 L850.33 412.96 L850.38 410.96 L850.45 408.95 L850.53 406.95 L850.63 404.95 L850.75 402.94 L850.89 400.94 L851.05 398.94 L851.23 396.94 L851.44 394.95 L851.69 392.96 L851.96 390.97 L852.27 388.99 L853.09 387.18 L854.59 385.88 L856.58 385.96 L858.53 386.4 L860.46 386.96 L862.38 387.53 L864.32 388.06 L866.24 388.64 L868.16 389.22 L870.14 389.5 L872.04 388.93 L873.67 387.77 L875.22 386.49 L876.87 385.36 L878.75 384.66 L880.67 384.08 L882.63 383.65 L884.63 383.5 L886.62 383.74 L888.55 384.26 L890.44 384.93 L892.31 385.65 L894.16 386.43 L895.93 387.38 L897.62 388.46 L899.27 389.6 L900.91 390.75 L902.57 391.89 L904.27 392.95 L906.04 393.88 L907.89 394.66 L909.78 395.35 L911.68 395.97 L913.6 396.56 L915.52 397.14 L917.43 397.76 L919.32 398.43 L921.17 399.2 L922.97 400.1 L924.69 401.12 L926.36 402.23 L928.01 403.37 L929.66 404.52 L931.32 405.64 L933.03 406.69 L934.78 407.66 L936.55 408.62 L938.33 409.55 L940.12 410.45 L941.93 411.32 L943.75 412.15 L945.6 412.94 L947.45 413.69 L949.32 414.42 L951.2 415.12 L953.09 415.8 L954.99 416.45 L956.9 417.07 L958.81 417.67 L960.73 418.24 L962.66 418.8 L964.59 419.34 L966.53 419.88 L968.47 420.39 L970.42 420.86 L972.37 421.29 L974.34 421.67 L976.32 422 L978.31 422.29 L980.29 422.57 L982.28 422.84 L984.27 423.08 L986.27 423.32 L988.26 423.53 L990.26 423.72 L992.26 423.89 L994.26 424.04 L996.26 424.17 L998.26 424.28 L1000.27 424.38 L1002.27 424.47 L1004.27 424.55 L1006.28 424.63 L1008.28 424.7 L1010.29 424.76 L1012.29 424.82 L1014.3 424.86 L1016.31 424.91 L1018.31 424.95 L1020.32 424.98 L1022.32 425.02 L1024.33 425.06 L1026.33 425.09 L1028.34 425.12 L1030.35 425.15 L1032.35 425.17 L1034.36 425.18 L1036.36 425.2 L1038.37 425.2 L1040.38 425.18 L1042.38 425.11 L1044.38 425 L1046.39 424.86 L1048.38 424.69 L1050.38 424.5 L1052.38 424.3 L1054.37 424.09 L1056.37 423.87 L1058.36 423.67 L1060.36 423.48 L1062.36 423.3 L1064.36 423.12 L1066.35 422.94 L1068.35 422.75 L1070.35 422.56 L1072.34 422.37 L1074.34 422.17 L1076.34 421.97 L1078.33 421.77 L1080.33 421.56 L1082.32 421.35 L1084.32 421.15 L1086.31 420.93 L1088.31 420.71 L1090.3 420.49 L1092.29 420.26 L1094.29 420.03 L1096.28 419.8 L1098.27 419.57 L1100.26 419.33 L1102.26 419.1 L1104.25 418.86 L1106.24 418.63 L1108.23 418.4 L1110.23 418.16 L1112.22 417.92 L1114.21 417.68 L1116.2 417.44 L1118.19 417.2 L1120.18 416.96 L1122.18 416.72 L1124.17 416.48 L1126.16 416.25 L1128.15 416.01 L1130.14 415.78 L1132.14 415.55 L1134.13 415.32 L1136.12 415.09 L1138.12 414.86 L1140.11 414.63 L1142.1 414.41 L1144.1 414.18 L1146.09 413.95 L1148.08 413.72 L1150.07 413.49 L1152.07 413.26 L1154.06 413.02 L1156.05 412.79 L1158.04 412.56 L1160.04 412.32 L1162.03 412.09 L1164.02 411.85 L1166.01 411.62 L1168.01 411.38 L1170 411.13 L1171.99 410.89 L1173.98 410.64 L1175.97 410.39 L1177.96 410.13 L1179.95 409.87 L1181.94 409.61 L1183.92 409.34 L1185.91 409.07 L1187.9 408.8 L1187.9 426.2 L1185.91 426.38 L1183.91 426.56 L1181.92 426.74 L1179.93 426.93 L1177.94 427.13 L1175.94 427.33 L1173.95 427.54 L1171.96 427.75 L1169.98 427.97 L1167.99 428.2 L1166 428.43 L1164.01 428.67 L1162.03 428.91 L1160.04 429.16 L1158.05 429.4 L1156.07 429.65 L1154.08 429.9 L1152.1 430.15 L1150.11 430.4 L1148.12 430.65 L1146.14 430.91 L1144.15 431.17 L1142.17 431.43 L1140.19 431.69 L1138.2 431.96 L1136.22 432.22 L1134.24 432.49 L1132.25 432.76 L1130.27 433.04 L1128.29 433.31 L1126.31 433.6 L1124.33 433.88 L1122.35 434.17 L1120.37 434.47 L1118.39 434.76 L1116.41 435.06 L1114.43 435.35 L1112.45 435.65 L1110.47 435.94 L1108.49 436.22 L1106.5 436.5 L1104.52 436.77 L1102.54 437.04 L1100.56 437.31 L1098.57 437.58 L1096.59 437.84 L1094.6 438.1 L1092.62 438.36 L1090.63 438.62 L1088.65 438.88 L1086.66 439.13 L1084.68 439.39 L1082.69 439.64 L1080.71 439.89 L1078.72 440.15 L1076.74 440.4 L1074.75 440.64 L1072.77 440.89 L1070.78 441.14 L1068.79 441.38 L1066.81 441.62 L1064.82 441.87 L1062.83 442.1 L1060.85 442.34 L1058.86 442.59 L1056.88 442.86 L1054.89 443.13 L1052.91 443.41 L1050.93 443.68 L1048.94 443.94 L1046.96 444.19 L1044.97 444.41 L1042.98 444.6 L1040.98 444.76 L1038.98 444.88 L1036.98 444.97 L1034.98 445.04 L1032.98 445.1 L1030.98 445.15 L1028.98 445.2 L1026.98 445.24 L1024.98 445.28 L1022.98 445.32 L1020.98 445.37 L1018.98 445.42 L1016.98 445.47 L1014.98 445.53 L1012.98 445.61 L1010.98 445.7 L1008.98 445.8 L1006.98 445.91 L1004.98 446.01 L1002.98 446.12 L1000.98 446.22 L998.98 446.31 L996.98 446.38 L994.98 446.44 L992.98 446.48 L990.98 446.5 L988.98 446.49 L986.98 446.46 L984.98 446.41 L982.98 446.34 L980.98 446.26 L978.98 446.15 L976.98 446.04 L974.98 445.92 L972.99 445.78 L970.99 445.64 L969 445.49 L967 445.33 L965.01 445.16 L963.02 444.94 L961.03 444.68 L959.05 444.39 L957.08 444.06 L955.11 443.7 L953.15 443.31 L951.19 442.9 L949.23 442.47 L947.29 442.01 L945.36 441.47 L943.45 440.88 L941.55 440.23 L939.68 439.53 L937.81 438.81 L935.96 438.06 L934.11 437.29 L932.27 436.5 L930.47 435.62 L928.71 434.67 L926.95 433.71 L925.19 432.76 L923.4 431.86 L921.57 431.07 L919.69 430.38 L917.78 429.78 L915.86 429.22 L913.93 428.67 L912.01 428.11 L910.11 427.49 L908.23 426.79 L906.39 426.01 L904.58 425.17 L902.78 424.29 L900.98 423.4 L899.18 422.53 L897.37 421.69 L895.52 420.9 L893.65 420.2 L891.79 419.45 L889.94 418.7 L888.05 418.03 L886.11 417.56 L884.12 417.41 L882.16 417.8 L880.3 418.53 L878.48 419.37 L876.66 420.2 L874.96 421.25 L873.27 422.33 L871.47 423.18 L869.49 423.37 L867.54 422.93 L865.67 422.22 L863.82 421.45 L861.94 420.77 L859.98 420.41 L857.98 420.5 L856 420.79 L854.06 421.29 L852.41 422.34 L851.52 424.12 L850.96 426.05 L850.6 428.01 L850.37 430 L850.24 432 L850.2 434 Z" fill="#dddddd" stroke="none"/>
<path d="M850.5 436.3 V463.8 M839.4 436.3 H861.6 M839.4 463.8 H861.6 M856.3 404.9 V430.2 M845.2 404.9 H867.4 M845.2 430.2 H867.4 M861.8 375.5 V400.8 M850.7 375.5 H872.9 M850.7 400.8 H872.9 M867.9 368.4 V395.6 M856.8 368.4 H879 M856.8 395.6 H879 M873.6 353.8 V380.9 M862.5 353.8 H884.7 M862.5 380.9 H884.7 M913.1 393.7 V415.1 M902 393.7 H924.2 M902 415.1 H924.2 M957.1 429.8 V451.8 M946 429.8 H968.2 M946 451.8 H968.2 M1001 429 V451.3 M989.9 429 H1012.1 M989.9 451.3 H1012.1 M1044.9 422.4 V437.8 M1033.8 422.4 H1056 M1033.8 437.8 H1056 M1088.8 411.8 V427.2 M1077.7 411.8 H1099.9 M1077.7 427.2 H1099.9 M1132.5 399.8 V419.7 M1121.4 399.8 H1143.6 M1121.4 419.7 H1143.6 M1176.6 385 V421.2 M1165.5 385 H1187.7 M1165.5 421.2 H1187.7" fill="none" stroke="#000080" stroke-width="2.1"/>
<circle cx="850.5" cy="450.1" r="3.8" fill="#000080"/>
<circle cx="856.3" cy="417.4" r="3.8" fill="#000080"/>
<circle cx="861.8" cy="388" r="3.8" fill="#000080"/>
<circle cx="867.9" cy="382" r="3.8" fill="#000080"/>
<circle cx="873.6" cy="367.4" r="3.8" fill="#000080"/>
<circle cx="913.1" cy="404.6" r="3.8" fill="#000080"/>
<circle cx="957.1" cy="440.5" r="3.8" fill="#000080"/>
<circle cx="1001" cy="440" r="3.8" fill="#000080"/>
<circle cx="1044.9" cy="430.2" r="3.8" fill="#000080"/>
<circle cx="1088.8" cy="419.7" r="3.8" fill="#000080"/>
<circle cx="1132.5" cy="409.9" r="3.8" fill="#000080"/>
<circle cx="1176.6" cy="403.4" r="3.8" fill="#000080"/>
<path d="M850.2 431.7 L850.31 430.2 L850.43 428.7 L850.55 427.2 L850.68 425.7 L850.82 424.21 L850.97 422.71 L851.12 421.22 L851.28 419.72 L851.44 418.22 L851.61 416.73 L851.77 415.24 L851.91 413.74 L852.03 412.24 L852.14 410.74 L852.27 409.24 L852.42 407.75 L852.61 406.25 L852.88 404.78 L853.36 403.35 L854.53 402.48 L855.97 402.06 L857.46 401.9 L858.91 402.27 L860.24 402.97 L861.53 403.74 L862.87 404.42 L864.2 405.13 L865.5 405.88 L866.86 406.53 L868.31 406.89 L869.8 406.72 L871.19 406.15 L872.48 405.38 L873.73 404.54 L875 403.73 L876.33 403.04 L877.67 402.37 L879 401.66 L880.34 400.99 L881.74 400.43 L883.21 400.12 L884.71 400.17 L886.18 400.48 L887.61 400.94 L889.02 401.47 L890.42 402.02 L891.83 402.53 L893.24 403.07 L894.62 403.65 L896 404.26 L897.36 404.89 L898.72 405.54 L900.07 406.2 L901.42 406.85 L902.78 407.51 L904.14 408.14 L905.51 408.76 L906.89 409.35 L908.29 409.91 L909.7 410.44 L911.1 410.97 L912.52 411.48 L913.93 412 L915.34 412.52 L916.74 413.06 L918.14 413.63 L919.52 414.22 L920.88 414.85 L922.22 415.53 L923.52 416.29 L924.79 417.1 L926.03 417.94 L927.26 418.81 L928.49 419.68 L929.73 420.53 L930.99 421.35 L932.28 422.11 L933.62 422.81 L934.98 423.45 L936.35 424.06 L937.73 424.65 L939.13 425.21 L940.53 425.75 L941.94 426.27 L943.36 426.78 L944.78 427.26 L946.21 427.73 L947.64 428.19 L949.08 428.64 L950.52 429.08 L951.96 429.51 L953.4 429.92 L954.85 430.32 L956.31 430.69 L957.77 431.06 L959.23 431.4 L960.7 431.72 L962.17 432.03 L963.65 432.33 L965.12 432.63 L966.6 432.91 L968.08 433.18 L969.56 433.44 L971.04 433.68 L972.53 433.9 L974.02 434.1 L975.51 434.28 L977.01 434.44 L978.5 434.61 L980 434.78 L981.49 434.94 L982.99 435.09 L984.49 435.22 L985.99 435.33 L987.49 435.42 L988.99 435.48 L990.49 435.5 L992 435.5 L993.5 435.5 L995 435.5 L996.51 435.5 L998.01 435.5 L999.51 435.5 L1001.02 435.5 L1002.52 435.5 L1004.03 435.5 L1005.53 435.5 L1007.03 435.5 L1008.54 435.5 L1010.04 435.5 L1011.54 435.5 L1013.05 435.5 L1014.55 435.48 L1016.05 435.45 L1017.56 435.42 L1019.06 435.38 L1020.56 435.34 L1022.07 435.29 L1023.57 435.25 L1025.07 435.22 L1026.58 435.19 L1028.08 435.17 L1029.58 435.15 L1031.09 435.13 L1032.59 435.11 L1034.09 435.09 L1035.6 435.06 L1037.1 435.04 L1038.6 435 L1040.11 434.95 L1041.61 434.86 L1043.11 434.76 L1044.61 434.63 L1046.1 434.48 L1047.6 434.31 L1049.09 434.14 L1050.58 433.95 L1052.07 433.75 L1053.56 433.54 L1055.05 433.33 L1056.54 433.13 L1058.03 432.92 L1059.52 432.72 L1061.01 432.52 L1062.5 432.33 L1063.99 432.12 L1065.48 431.91 L1066.97 431.68 L1068.45 431.45 L1069.94 431.22 L1071.42 430.98 L1072.91 430.74 L1074.39 430.5 L1075.88 430.27 L1077.36 430.05 L1078.85 429.83 L1080.34 429.62 L1081.83 429.43 L1083.33 429.25 L1084.82 429.09 L1086.32 428.94 L1087.81 428.79 L1089.31 428.66 L1090.81 428.53 L1092.31 428.4 L1093.81 428.28 L1095.31 428.16 L1096.8 428.04 L1098.3 427.92 L1099.8 427.8 L1101.3 427.67 L1102.8 427.55 L1104.3 427.41 L1105.79 427.27 L1107.29 427.12 L1108.79 426.97 L1110.28 426.81 L1111.78 426.65 L1113.27 426.48 L1114.76 426.32 L1116.26 426.15 L1117.75 425.97 L1119.25 425.8 L1120.74 425.62 L1122.23 425.44 L1123.72 425.26 L1125.22 425.08 L1126.71 424.89 L1128.2 424.71 L1129.69 424.53 L1131.19 424.34 L1132.68 424.15 L1134.17 423.95 L1135.66 423.75 L1137.15 423.55 L1138.64 423.35 L1140.13 423.14 L1141.62 422.94 L1143.11 422.74 L1144.6 422.53 L1146.09 422.33 L1147.58 422.13 L1149.07 421.94 L1150.56 421.74 L1152.05 421.56 L1153.54 421.37 L1155.04 421.18 L1156.53 421 L1158.02 420.82 L1159.51 420.64 L1161.01 420.46 L1162.5 420.28 L1163.99 420.1 L1165.49 419.92 L1166.98 419.75 L1168.47 419.57 L1169.97 419.4 L1171.46 419.23 L1172.95 419.05 L1174.45 418.88 L1175.94 418.71 L1177.44 418.54 L1178.93 418.38 L1180.43 418.21 L1181.92 418.05 L1183.42 417.88 L1184.91 417.72 L1186.4 417.56 L1187.9 417.4" fill="none" stroke="#4169e1" stroke-width="2.7" stroke-linejoin="round"/>
<path d="M851.3 579 L853.25 577.19 L855.22 575.41 L857.21 573.64 L859.21 571.89 L861.23 570.16 L863.27 568.45 L865.33 566.77 L867.4 565.1 M886 551.5 L888.34 550.05 L890.71 548.64 L893.1 547.27 L895.51 545.94 L897.93 544.62 L900.35 543.32 L902.78 542.01 L905.2 540.7 M925.2 530.1 L927.62 528.88 L930.05 527.67 L932.48 526.47 L934.92 525.28 L937.36 524.1 L939.8 522.93 L942.25 521.76 L944.7 520.6 M965.4 511.1 L967.9 510 L970.41 508.91 L972.91 507.82 L975.43 506.75 L977.94 505.68 L980.46 504.61 L982.98 503.55 L985.5 502.5 M1006.6 493.9 L1009.18 492.91 L1011.76 491.93 L1014.35 490.97 L1016.94 490.01 L1019.53 489.06 L1022.12 488.11 L1024.71 487.16 L1027.3 486.2 M1048.2 478.45 L1050.78 477.56 L1053.37 476.69 L1055.96 475.84 L1058.56 474.99 L1061.15 474.15 L1063.75 473.32 L1066.35 472.48 L1068.95 471.65 M1090.9 464.7 L1093.5 463.87 L1096.09 463.03 L1098.69 462.19 L1101.28 461.35 L1103.88 460.52 L1106.48 459.69 L1109.09 458.89 L1111.7 458.1 M1133.6 452.05 L1136.2 451.36 L1138.79 450.68 L1141.39 450.01 L1144 449.34 L1146.6 448.67 L1149.2 448 L1151.8 447.33 L1154.4 446.65 M1176.6 440.8 L1179.42 440.12 L1182.24 439.47 L1185.07 438.83 L1187.9 438.2" fill="none" stroke="#000" stroke-width="2.6"/>
<path d="M851.3 574.9 L852.15 572.51 L853.1 570.16 L854.14 567.85 L855.3 565.6 M865.84 550.05 L867.6 549.6 L869.39 549.94 M884.7 560.1 L887.23 560.94 L889.8 561.65 L892.39 562.27 L895 562.8 M913.47 565.46 L915.3 565.6 L917.13 565.72 M936.2 566.6 L938.83 566.85 L941.45 567.18 L944.07 567.52 L946.7 567.8 M965.57 569.18 L967.4 569.2 L969.24 569.2 M988.2 569.2 L990.83 569.13 L993.45 568.96 L996.08 568.77 L998.7 568.6 M1017.37 567.84 L1019.2 567.75 L1021.03 567.65 M1040.1 566.3 L1042.75 566.04 L1045.4 565.74 L1048.05 565.42 L1050.7 565.1 M1069.17 562.53 L1071 562.4 L1072.83 562.29 M1091.8 561.6 L1094.45 561.66 L1097.1 561.81 L1099.75 561.98 L1102.4 562.1 M1121.17 562.46 L1123 562.5 L1124.83 562.55 M1143.7 563.3 L1146.38 563.46 L1149.05 563.66 L1151.72 563.85 L1154.4 564 M1171.33 564.56 L1173.17 564.58 L1175 564.6" fill="none" stroke="#006400" stroke-width="2.7"/>
<path d="M850.8 431.3 L850.9 429.47 L851.06 427.64 M852.45 418.5 L852.8 416.7 L853.14 414.9 M855.72 405.68 L856.9 404.3 L858.62 403.69 M867.26 411.36 L868.9 412.1 L870.62 411.52 M880.39 405.26 L882.2 405 L884.03 405.14 M893.73 408.64 L895.4 409.4 L897.05 410.2 M906.57 416.39 L908.1 417.4 L909.65 418.38 M919.09 424.36 L920.6 425.4 L922.09 426.47 M931.23 433.6 L932.7 434.7 L934.18 435.79 M943.11 442.08 L944.7 443 L946.32 443.85 M956.43 448.29 L958.1 449.05 L959.75 449.85 M970.07 455.1 L971.75 455.85 L973.44 456.56 M983.72 460.35 L985.45 460.95 L987.19 461.54 M997.9 464.96 L999.65 465.5 L1001.4 466.04 M1012.1 469.21 L1013.85 469.75 L1015.6 470.31 M1026.05 473.8 L1027.8 474.35 L1029.56 474.88 M1040.14 477.93 L1041.9 478.45 L1043.65 478.99 M1054.53 482.4 L1056.3 482.9 L1058.07 483.37 M1068.91 485.98 L1070.7 486.4 L1072.49 486.82 M1083.21 489.28 L1085 489.7 L1086.79 490.12 M1097.91 492.79 L1099.7 493.2 L1101.49 493.6 M1112.2 495.84 L1114 496.2 L1115.8 496.57 M1126.99 498.77 L1128.8 499.1 L1130.61 499.42 M1141.59 501.22 L1143.4 501.5 L1145.21 501.78 M1156.38 503.43 L1158.2 503.7 L1160.01 503.98 M1170.98 505.66 L1172.8 505.9 L1174.62 506.13 M1183.45 507.14 L1185.27 507.33 L1187.1 507.5" fill="none" stroke="#ff0000" stroke-width="2.8"/>
</g>
<path d="M847.45 585.7 v-7.5 M847.45 338 v7.5 M908.5 585.7 v-7.5 M908.5 338 v7.5 M969.56 585.7 v-7.5 M969.56 338 v7.5 M1030.61 585.7 v-7.5 M1030.61 338 v7.5 M1091.66 585.7 v-7.5 M1091.66 338 v7.5 M1152.72 585.7 v-7.5 M1152.72 338 v7.5 M847.9 585.7 h7.5 M1189.9 585.7 h-7.5 M847.9 538.07 h7.5 M1189.9 538.07 h-7.5 M847.9 490.43 h7.5 M1189.9 490.43 h-7.5 M847.9 442.8 h7.5 M1189.9 442.8 h-7.5 M847.9 395.16 h7.5 M1189.9 395.16 h-7.5 M847.9 347.53 h7.5 M1189.9 347.53 h-7.5" fill="none" stroke="#000" stroke-width="1.7"/>
<rect x="847.9" y="338" width="342" height="247.7" fill="none" stroke="#000" stroke-width="3.9"/>
<text x="847.45" y="614" font-size="19.7" text-anchor="middle" textLength="9.5" lengthAdjust="spacingAndGlyphs">0</text>
<text x="908.5" y="614" font-size="19.7" text-anchor="middle" textLength="9.5" lengthAdjust="spacingAndGlyphs">5</text>
<text x="969.56" y="614" font-size="19.7" text-anchor="middle" textLength="19" lengthAdjust="spacingAndGlyphs">10</text>
<text x="1030.61" y="614" font-size="19.7" text-anchor="middle" textLength="19" lengthAdjust="spacingAndGlyphs">15</text>
<text x="1091.66" y="614" font-size="19.7" text-anchor="middle" textLength="19" lengthAdjust="spacingAndGlyphs">20</text>
<text x="1152.72" y="614" font-size="19.7" text-anchor="middle" textLength="19" lengthAdjust="spacingAndGlyphs">25</text>
<text transform="translate(14.1 461.85) rotate(-90)" font-size="19" text-anchor="middle" textLength="78.7" lengthAdjust="spacingAndGlyphs">NGC3626</text>
<text transform="translate(36.4 461.85) rotate(-90)" x="-100.25" font-size="19" textLength="68.3" lengthAdjust="spacingAndGlyphs">Rotation</text>
<text transform="translate(36.4 461.85) rotate(-90)" x="-27.05" font-size="19" textLength="65.5" lengthAdjust="spacingAndGlyphs">velocity</text>
<text transform="translate(36.4 461.85) rotate(-90)" x="43.35" font-size="19" textLength="57.1" lengthAdjust="spacingAndGlyphs">(km/s)</text>
<g clip-path="url(#c20)">
<path d="M108.6 748 L108.7 746 L108.81 744 L108.92 742 L109.03 740 L109.14 738 L109.25 736.01 L109.37 734.01 L109.49 732.01 L109.61 730.01 L109.74 728.01 L109.86 726.01 L109.99 724.02 L110.12 722.02 L110.24 720.02 L110.37 718.02 L110.5 716.02 L110.62 714.02 L110.76 712.03 L110.89 710.03 L111.03 708.03 L111.17 706.03 L111.31 704.04 L111.46 702.04 L111.61 700.04 L111.77 698.05 L111.94 696.05 L112.11 694.06 L112.29 692.06 L112.48 690.07 L112.67 688.08 L112.87 686.09 L113.04 684.09 L113.19 682.1 L113.34 680.1 L113.49 678.1 L113.65 676.11 L113.83 674.11 L114.05 672.12 L114.33 670.14 L114.73 668.18 L115.62 666.44 L117.52 666.96 L119.39 667.69 L121.28 668.35 L123.21 668.87 L125.2 669.09 L127.2 669.23 L129.2 669.33 L131.2 669.39 L133.2 669.38 L135.19 669.19 L137.16 668.84 L139.11 668.38 L141.05 667.88 L142.99 667.37 L144.93 666.9 L146.87 666.4 L148.8 665.88 L150.73 665.32 L152.64 664.73 L154.54 664.1 L156.43 663.44 L158.3 662.72 L160.15 661.96 L161.95 661.08 L163.65 660.03 L165.29 658.88 L166.89 657.68 L168.48 656.46 L170.1 655.28 L171.77 654.19 L173.53 653.23 L175.4 652.5 L177.32 651.96 L179.27 651.5 L181.23 651.11 L183.21 650.77 L185.19 650.49 L187.17 650.2 L189.16 649.96 L191.16 649.82 L193.16 649.84 L195.14 650.07 L197.11 650.45 L199.06 650.92 L200.99 651.42 L202.94 651.91 L204.86 652.45 L206.77 653.08 L208.65 653.76 L210.52 654.48 L212.38 655.22 L214.24 655.95 L216.11 656.66 L218 657.32 L219.92 657.91 L221.85 658.43 L223.79 658.9 L225.75 659.35 L227.7 659.77 L229.66 660.18 L231.63 660.58 L233.59 660.97 L235.55 661.37 L237.51 661.77 L239.47 662.17 L241.44 662.57 L243.4 662.97 L245.36 663.36 L247.33 663.75 L249.29 664.13 L251.26 664.49 L253.23 664.85 L255.2 665.19 L257.18 665.52 L259.15 665.83 L261.13 666.14 L263.11 666.45 L265.09 666.76 L267.07 667.05 L269.05 667.34 L271.04 667.61 L273.02 667.86 L275.01 668.1 L277 668.32 L278.99 668.51 L280.99 668.68 L282.98 668.83 L284.98 668.97 L286.98 669.09 L288.98 669.21 L290.98 669.32 L292.98 669.42 L294.98 669.52 L296.98 669.63 L298.98 669.73 L300.97 669.83 L302.97 669.94 L304.97 670.04 L306.97 670.14 L308.97 670.23 L310.97 670.32 L312.97 670.41 L314.97 670.5 L316.97 670.57 L318.98 670.64 L320.98 670.71 L322.98 670.77 L324.98 670.81 L326.98 670.85 L328.98 670.89 L330.98 670.91 L332.99 670.92 L334.99 670.94 L336.99 670.96 L338.99 670.98 L340.99 670.99 L343 671.01 L345 671.02 L347 671.04 L349 671.05 L351.01 671.07 L353.01 671.08 L355.01 671.09 L357.01 671.1 L359.01 671.11 L361.02 671.12 L363.02 671.13 L365.02 671.14 L367.02 671.15 L369.02 671.16 L371.03 671.17 L373.03 671.17 L375.03 671.18 L377.03 671.18 L379.03 671.19 L381.04 671.19 L383.04 671.19 L385.04 671.2 L387.04 671.2 L389.04 671.2 L391.05 671.2 L393.05 671.2 L395.05 671.2 L397.05 671.2 L399.06 671.2 L401.06 671.2 L403.06 671.2 L405.06 671.2 L407.06 671.2 L409.07 671.2 L411.07 671.2 L413.07 671.2 L415.07 671.2 L417.07 671.2 L419.08 671.2 L421.08 671.2 L423.08 671.2 L425.08 671.2 L427.09 671.2 L429.09 671.2 L431.09 671.2 L433.09 671.2 L435.09 671.2 L437.1 671.2 L439.1 671.2 L441.1 671.2 L441.1 699.6 L439.09 699.6 L437.09 699.6 L435.08 699.6 L433.07 699.6 L431.07 699.6 L429.06 699.6 L427.05 699.6 L425.05 699.6 L423.04 699.6 L421.03 699.6 L419.03 699.6 L417.02 699.6 L415.01 699.6 L413.01 699.6 L411 699.6 L408.99 699.6 L406.99 699.6 L404.98 699.6 L402.97 699.6 L400.97 699.6 L398.96 699.6 L396.95 699.6 L394.94 699.6 L392.94 699.6 L390.93 699.6 L388.92 699.6 L386.92 699.6 L384.91 699.6 L382.9 699.6 L380.9 699.6 L378.89 699.6 L376.88 699.6 L374.88 699.6 L372.87 699.6 L370.86 699.6 L368.86 699.6 L366.85 699.6 L364.84 699.6 L362.84 699.6 L360.83 699.6 L358.82 699.6 L356.82 699.6 L354.81 699.6 L352.8 699.6 L350.8 699.6 L348.79 699.6 L346.78 699.6 L344.78 699.6 L342.77 699.6 L340.76 699.59 L338.76 699.57 L336.75 699.56 L334.74 699.53 L332.74 699.51 L330.73 699.48 L328.72 699.45 L326.72 699.41 L324.71 699.38 L322.7 699.34 L320.7 699.29 L318.69 699.25 L316.69 699.2 L314.68 699.16 L312.67 699.11 L310.67 699.06 L308.66 699.01 L306.65 698.96 L304.65 698.91 L302.64 698.86 L300.64 698.81 L298.63 698.76 L296.62 698.7 L294.62 698.64 L292.61 698.57 L290.61 698.5 L288.6 698.42 L286.6 698.34 L284.59 698.27 L282.59 698.19 L280.58 698.12 L278.58 698.05 L276.57 697.99 L274.56 697.93 L272.56 697.86 L270.55 697.8 L268.55 697.72 L266.54 697.64 L264.54 697.53 L262.54 697.41 L260.53 697.26 L258.53 697.09 L256.54 696.91 L254.54 696.71 L252.54 696.5 L250.55 696.29 L248.55 696.08 L246.56 695.86 L244.56 695.64 L242.57 695.43 L240.57 695.23 L238.57 695.02 L236.58 694.81 L234.58 694.59 L232.59 694.37 L230.6 694.14 L228.6 693.9 L226.61 693.65 L224.62 693.38 L222.64 693.1 L220.65 692.81 L218.67 692.47 L216.7 692.08 L214.74 691.65 L212.79 691.19 L210.84 690.73 L208.88 690.27 L206.93 689.83 L204.96 689.43 L202.98 689.08 L201 688.76 L199.02 688.43 L197.04 688.1 L195.06 687.82 L193.06 687.61 L191.06 687.51 L189.05 687.55 L187.06 687.77 L185.08 688.13 L183.13 688.57 L181.18 689.07 L179.24 689.58 L177.3 690.1 L175.4 690.73 L173.52 691.45 L171.68 692.24 L169.85 693.07 L168.04 693.92 L166.22 694.78 L164.4 695.62 L162.56 696.42 L160.69 697.16 L158.8 697.83 L156.91 698.49 L155.01 699.13 L153.1 699.75 L151.19 700.36 L149.27 700.96 L147.35 701.54 L145.42 702.1 L143.5 702.66 L141.58 703.25 L139.67 703.88 L137.77 704.5 L135.84 705.09 L133.9 705.58 L131.93 705.94 L129.93 706.11 L127.92 706.18 L125.92 706.21 L123.91 706.24 L121.9 706.27 L119.9 706.33 L118.07 706.89 L117.22 708.7 L116.7 710.64 L116.28 712.6 L115.91 714.57 L115.52 716.54 L115.07 718.5 L114.56 720.44 L114.04 722.38 L113.52 724.32 L113 726.25 L112.5 728.2 L112.02 730.14 L111.56 732.1 L111.13 734.06 L110.73 736.03 L110.39 738 L110.09 739.99 L109.85 741.98 L109.66 743.98 L109.48 745.98 L109.3 747.97 L109.14 749.97 L108.99 751.98 L108.86 753.98 L108.75 755.98 L108.67 757.99 L108.62 759.99 L108.6 762 Z" fill="#dddddd" stroke="none"/>
<path d="M107.8 687.1 V728.2 M96.7 687.1 H118.9 M96.7 728.2 H118.9 M162.1 666 V699.6 M151 666 H173.2 M151 699.6 H173.2 M282.4 666 V699.6 M271.3 666 H293.5 M271.3 699.6 H293.5 M402.7 666 V699.6 M391.6 666 H413.8 M391.6 699.6 H413.8" fill="none" stroke="#000080" stroke-width="2.1"/>
<circle cx="107.8" cy="707.9" r="3.8" fill="#000080"/>
<circle cx="162.1" cy="683" r="3.8" fill="#000080"/>
<circle cx="282.4" cy="683" r="3.8" fill="#000080"/>
<circle cx="402.7" cy="682.5" r="3.8" fill="#000080"/>
<path d="M106.3 829.2 L106.35 827.69 L106.4 826.17 L106.46 824.66 L106.51 823.14 L106.56 821.63 L106.61 820.11 L106.66 818.6 L106.7 817.08 L106.75 815.57 L106.8 814.05 L106.85 812.54 L106.89 811.03 L106.94 809.51 L106.99 808 L107.03 806.48 L107.08 804.97 L107.12 803.45 L107.17 801.94 L107.21 800.42 L107.25 798.91 L107.29 797.39 L107.34 795.88 L107.38 794.36 L107.42 792.85 L107.46 791.33 L107.5 789.82 L107.54 788.3 L107.58 786.79 L107.62 785.28 L107.66 783.76 L107.7 782.25 L107.73 780.73 L107.77 779.22 L107.81 777.7 L107.84 776.19 L107.87 774.67 L107.9 773.16 L107.93 771.64 L107.96 770.13 L107.99 768.61 L108.02 767.1 L108.04 765.58 L108.07 764.07 L108.1 762.55 L108.14 761.04 L108.17 759.52 L108.21 758.01 L108.25 756.49 L108.29 754.98 L108.34 753.46 L108.39 751.95 L108.44 750.43 L108.5 748.92 L108.56 747.4 L108.62 745.89 L108.69 744.38 L108.77 742.86 L108.84 741.35 L108.93 739.84 L109.01 738.32 L109.11 736.81 L109.2 735.3 L109.31 733.79 L109.42 732.28 L109.53 730.76 L109.65 729.25 L109.78 727.74 L109.92 726.24 L110.1 724.73 L110.31 723.23 L110.55 721.73 L110.81 720.24 L111.09 718.75 L111.39 717.27 L111.69 715.78 L112 714.3 L112.31 712.82 L112.63 711.33 L112.93 709.85 L113.23 708.36 L113.51 706.87 L113.78 705.38 L114.05 703.89 L114.32 702.4 L114.59 700.91 L114.86 699.42 L115.13 697.93 L115.4 696.44 L115.67 694.95 L115.94 693.45 L116.22 691.96 L116.49 690.47 L116.76 688.98 L117.03 687.49 L117.3 686 L118.72 686.48 L120.16 686.91 L121.63 687.25 L123.11 687.46 L124.61 687.5 L126.12 687.47 L127.62 687.41 L129.12 687.33 L130.62 687.23 L132.11 687.12 L133.61 686.97 L135.09 686.73 L136.56 686.41 L138.01 686.04 L139.46 685.64 L140.91 685.24 L142.36 684.84 L143.81 684.47 L145.28 684.14 L146.74 683.81 L148.21 683.49 L149.68 683.16 L151.14 682.82 L152.6 682.45 L154.04 682.05 L155.48 681.61 L156.89 681.09 L158.26 680.49 L159.61 679.82 L160.93 679.11 L162.25 678.38 L163.56 677.66 L164.89 676.95 L166.21 676.23 L167.5 675.46 L168.77 674.67 L170.04 673.87 L171.33 673.09 L172.63 672.35 L173.97 671.67 L175.36 671.08 L176.79 670.63 L178.25 670.27 L179.71 669.93 L181.18 669.64 L182.66 669.39 L184.16 669.21 L185.65 669.11 L187.16 669.07 L188.66 669.04 L190.16 669.02 L191.66 669.01 L193.16 669 L194.66 669.05 L196.15 669.26 L197.62 669.58 L199.07 669.96 L200.52 670.37 L201.97 670.77 L203.42 671.13 L204.87 671.52 L206.32 671.94 L207.76 672.37 L209.19 672.8 L210.64 673.23 L212.08 673.63 L213.54 674.01 L214.99 674.38 L216.45 674.75 L217.91 675.11 L219.37 675.46 L220.83 675.81 L222.29 676.14 L223.76 676.46 L225.23 676.77 L226.71 677.05 L228.18 677.31 L229.67 677.56 L231.15 677.8 L232.63 678.02 L234.12 678.24 L235.61 678.45 L237.1 678.65 L238.59 678.85 L240.08 679.04 L241.57 679.23 L243.06 679.41 L244.55 679.58 L246.04 679.76 L247.53 679.93 L249.03 680.1 L250.52 680.27 L252.01 680.44 L253.5 680.6 L255 680.76 L256.49 680.92 L257.99 681.07 L259.48 681.22 L260.98 681.37 L262.47 681.51 L263.97 681.65 L265.46 681.79 L266.96 681.93 L268.45 682.06 L269.95 682.2 L271.45 682.33 L272.94 682.46 L274.44 682.6 L275.94 682.73 L277.43 682.86 L278.93 682.99 L280.43 683.1 L281.92 683.21 L283.42 683.31 L284.92 683.39 L286.42 683.46 L287.92 683.53 L289.43 683.59 L290.93 683.65 L292.43 683.7 L293.93 683.75 L295.43 683.8 L296.93 683.84 L298.43 683.89 L299.93 683.93 L301.44 683.98 L302.94 684.03 L304.44 684.08 L305.94 684.13 L307.44 684.19 L308.94 684.25 L310.44 684.33 L311.94 684.41 L313.44 684.49 L314.94 684.58 L316.44 684.67 L317.94 684.77 L319.44 684.86 L320.94 684.94 L322.44 685.02 L323.94 685.1 L325.44 685.16 L326.94 685.22 L328.44 685.26 L329.94 685.3 L331.45 685.31 L332.95 685.33 L334.45 685.35 L335.95 685.37 L337.45 685.38 L338.96 685.4 L340.46 685.42 L341.96 685.43 L343.46 685.45 L344.96 685.46 L346.47 685.47 L347.97 685.49 L349.47 685.5 L350.97 685.51 L352.47 685.52 L353.98 685.53 L355.48 685.54 L356.98 685.55 L358.48 685.56 L359.99 685.56 L361.49 685.57 L362.99 685.58 L364.49 685.58 L365.99 685.59 L367.5 685.59 L369 685.59 L370.5 685.6 L372 685.6 L373.5 685.6 L375.01 685.6 L376.51 685.6 L378.01 685.6 L379.51 685.6 L381.01 685.6 L382.52 685.6 L384.02 685.6 L385.52 685.6 L387.02 685.6 L388.53 685.6 L390.03 685.6 L391.53 685.6 L393.03 685.6 L394.53 685.6 L396.04 685.6 L397.54 685.6 L399.04 685.6 L400.54 685.6 L402.04 685.6 L403.55 685.6 L405.05 685.6 L406.55 685.6 L408.05 685.6 L409.56 685.6 L411.06 685.6 L412.56 685.6 L414.06 685.6 L415.56 685.6 L417.07 685.6 L418.57 685.6 L420.07 685.6 L421.57 685.6 L423.07 685.6 L424.58 685.6 L426.08 685.6 L427.58 685.6 L429.08 685.6 L430.59 685.6 L432.09 685.6 L433.59 685.6 L435.09 685.6 L436.59 685.6 L438.1 685.6 L439.6 685.6 L441.1 685.6" fill="none" stroke="#4169e1" stroke-width="2.7" stroke-linejoin="round"/>
<path d="M106.3 848.8 L107.26 846.27 L108.25 843.75 L109.27 841.25 L110.32 838.75 L111.4 836.27 L112.51 833.8 L113.64 831.35 L114.8 828.9 M125.6 809.1 L127.2 806.83 L128.88 804.62 L130.63 802.46 L132.43 800.34 L134.28 798.27 L136.16 796.22 L138.07 794.2 L140 792.2 M156.5 777.2 L158.67 775.56 L160.87 773.96 L163.1 772.41 L165.36 770.89 L167.64 769.41 L169.94 767.96 L172.26 766.54 L174.6 765.15 M194.7 754.6 L197.22 753.41 L199.74 752.24 L202.27 751.09 L204.82 749.96 L207.37 748.85 L209.94 747.77 L212.51 746.72 L215.1 745.7 M236.4 738.3 L239.02 737.5 L241.64 736.71 L244.27 735.95 L246.91 735.2 L249.55 734.47 L252.19 733.76 L254.84 733.07 L257.5 732.4 M279.35 727.5 L282.08 726.9 L284.8 726.29 L287.53 725.69 L290.25 725.09 L292.98 724.5 L295.71 723.94 L298.45 723.4 L301.2 722.9 M323.5 719.6 L326.18 719.15 L328.85 718.67 L331.52 718.18 L334.19 717.68 L336.86 717.18 L339.53 716.72 L342.21 716.28 L344.9 715.9 M367.7 713.5 L370.44 713.21 L373.17 712.91 L375.91 712.61 L378.65 712.31 L381.38 712.02 L384.12 711.73 L386.86 711.46 L389.6 711.2 M411.7 709.4 L414.48 709.16 L417.25 708.92 L420.03 708.67 L422.8 708.42 L425.58 708.17 L428.35 707.92 L431.13 707.66 L433.9 707.4" fill="none" stroke="#000" stroke-width="2.6"/>
<path d="M106.3 842 L106.58 839.34 L106.93 836.68 L107.34 834.04 L107.8 831.4 M112.83 813.07 L113.6 811.4 L114.45 809.77 M125.9 809.9 L127.93 811.87 L129.88 813.92 L131.85 815.95 L133.9 817.9 M148.52 829.27 L150.1 830.2 L151.7 831.09 M169 838.5 L171.59 839.29 L174.21 840.01 L176.84 840.65 L179.5 841.2 M197.98 843.77 L199.8 844 L201.62 844.25 M220.2 846.5 L222.87 846.5 L225.55 846.5 L228.22 846.5 L230.9 846.5 M249.67 847.26 L251.5 847.3 L253.33 847.33 M272.3 847.5 L274.92 847.53 L277.55 847.56 L280.17 847.59 L282.8 847.6 M301.67 847.31 L303.5 847.3 L305.33 847.3 M324.3 847.3 L326.93 847.26 L329.55 847.17 L332.17 847.07 L334.8 847 M353.67 846.8 L355.5 846.8 L357.33 846.8 M376.3 846.8 L378.93 846.82 L381.55 846.88 L384.18 846.94 L386.8 847 M405.67 847.27 L407.5 847.3 L409.33 847.33 M428 847.7 L430.73 847.77 L433.45 847.84 L436.18 847.92 L438.9 848" fill="none" stroke="#006400" stroke-width="2.7"/>
<path d="M106.3 747.8 L106.42 745.97 L106.55 744.14 M107.32 735.03 L107.5 733.2 L107.66 731.37 M108.63 720.03 L109.3 718.4 L111 719.06 M120.52 723.26 L122.3 723.7 L124.11 723.99 M135.07 725.12 L136.9 725.2 L138.73 725.26 M149.87 725.49 L151.7 725.5 L153.53 725.37 M164.18 721.64 L165.9 721 L167.61 720.33 M177.68 716.07 L179.5 715.9 L181.33 715.95 M192.12 717.66 L193.9 718.1 L195.64 718.67 M205.17 724.69 L206.7 725.7 L208.25 726.68 M217.54 732.83 L219.1 733.8 L220.67 734.75 M230.58 740.43 L232.2 741.3 L233.82 742.16 M243.55 747 L245.2 747.8 L246.85 748.6 M257.12 753.5 L258.8 754.25 L260.48 754.98 M270.76 759.14 L272.45 759.85 L274.13 760.58 M284.59 765.22 L286.3 765.9 L288.02 766.54 M298.45 770.03 L300.2 770.6 L301.95 771.16 M312.75 774.55 L314.5 775.1 L316.25 775.66 M327.04 779.18 L328.8 779.7 L330.56 780.21 M341.32 783.05 L343.1 783.5 L344.88 783.96 M355.61 786.61 L357.4 787 L359.2 787.37 M370.3 789.37 L372.1 789.7 L373.9 790.04 M385 792.17 L386.8 792.5 L388.61 792.83 M399.39 794.7 L401.2 795 L403.01 795.29 M414.08 796.94 L415.9 797.2 L417.72 797.46 M427.26 798.8 L429.08 799.05 L430.9 799.3" fill="none" stroke="#ff0000" stroke-width="2.8"/>
</g>
<path d="M101.5 883.3 v-7.5 M101.5 635.6 v7.5 M179.2 883.3 v-7.5 M179.2 635.6 v7.5 M256.91 883.3 v-7.5 M256.91 635.6 v7.5 M334.61 883.3 v-7.5 M334.61 635.6 v7.5 M412.32 883.3 v-7.5 M412.32 635.6 v7.5 M101.5 883.3 h7.5 M443.5 883.3 h-7.5 M101.5 854.16 h7.5 M443.5 854.16 h-7.5 M101.5 825.02 h7.5 M443.5 825.02 h-7.5 M101.5 795.88 h7.5 M443.5 795.88 h-7.5 M101.5 766.74 h7.5 M443.5 766.74 h-7.5 M101.5 737.59 h7.5 M443.5 737.59 h-7.5 M101.5 708.45 h7.5 M443.5 708.45 h-7.5 M101.5 679.31 h7.5 M443.5 679.31 h-7.5 M101.5 650.17 h7.5 M443.5 650.17 h-7.5" fill="none" stroke="#000" stroke-width="1.7"/>
<rect x="101.5" y="635.6" width="342" height="247.7" fill="none" stroke="#000" stroke-width="3.9"/>
<text x="101.5" y="912" font-size="19.7" text-anchor="middle" textLength="9.5" lengthAdjust="spacingAndGlyphs">0</text>
<text x="179.2" y="912" font-size="19.7" text-anchor="middle" textLength="9.5" lengthAdjust="spacingAndGlyphs">5</text>
<text x="256.91" y="912" font-size="19.7" text-anchor="middle" textLength="19" lengthAdjust="spacingAndGlyphs">10</text>
<text x="334.61" y="912" font-size="19.7" text-anchor="middle" textLength="19" lengthAdjust="spacingAndGlyphs">15</text>
<text x="412.32" y="912" font-size="19.7" text-anchor="middle" textLength="19" lengthAdjust="spacingAndGlyphs">20</text>
<text x="87" y="887.5" font-size="19.7" text-anchor="end" textLength="9.5" lengthAdjust="spacingAndGlyphs">0</text>
<text x="87" y="858.36" font-size="19.7" text-anchor="end" textLength="19" lengthAdjust="spacingAndGlyphs">20</text>
<text x="87" y="829.22" font-size="19.7" text-anchor="end" textLength="19" lengthAdjust="spacingAndGlyphs">40</text>
<text x="87" y="800.08" font-size="19.7" text-anchor="end" textLength="19" lengthAdjust="spacingAndGlyphs">60</text>
<text x="87" y="770.94" font-size="19.7" text-anchor="end" textLength="19" lengthAdjust="spacingAndGlyphs">80</text>
<text x="87" y="741.79" font-size="19.7" text-anchor="end" textLength="28.5" lengthAdjust="spacingAndGlyphs">100</text>
<text x="87" y="712.65" font-size="19.7" text-anchor="end" textLength="28.5" lengthAdjust="spacingAndGlyphs">120</text>
<text x="87" y="683.51" font-size="19.7" text-anchor="end" textLength="28.5" lengthAdjust="spacingAndGlyphs">140</text>
<text x="87" y="654.37" font-size="19.7" text-anchor="end" textLength="28.5" lengthAdjust="spacingAndGlyphs">160</text>
<text x="220.8" y="948.6" font-size="19" textLength="56.8" lengthAdjust="spacingAndGlyphs">Radius</text>
<text x="282.3" y="948.6" font-size="19" textLength="41.5" lengthAdjust="spacingAndGlyphs">(kpc)</text>
<g clip-path="url(#c21)">
<path d="M478.7 709.4 L478.7 707.4 L478.72 705.39 L478.74 703.39 L478.77 701.39 L478.81 699.38 L478.86 697.38 L478.92 695.38 L479 693.37 L479.09 691.37 L479.19 689.37 L479.31 687.37 L479.45 685.37 L479.6 683.37 L479.77 681.38 L479.96 679.38 L480.18 677.39 L480.41 675.4 L480.81 673.44 L481.66 671.63 L482.79 669.98 L484.1 668.47 L485.59 667.12 L487.26 666.02 L489.07 665.17 L490.95 664.48 L492.87 663.9 L494.81 663.41 L496.77 662.97 L498.73 662.6 L500.72 662.31 L502.71 662.06 L504.7 661.82 L506.68 661.55 L508.66 661.21 L510.61 660.77 L512.54 660.23 L514.44 659.6 L516.32 658.89 L518.16 658.11 L519.98 657.26 L521.72 656.28 L523.39 655.17 L525 653.97 L526.57 652.73 L528.13 651.47 L529.71 650.24 L531.3 649.02 L532.81 647.71 L534.31 646.37 L535.84 645.08 L537.47 643.92 L539.26 643.02 L541.14 642.33 L543.04 641.7 L544.98 641.2 L546.96 640.88 L548.96 640.8 L550.96 640.87 L552.96 641.02 L554.95 641.21 L556.94 641.44 L558.92 641.78 L560.83 642.37 L562.69 643.12 L564.52 643.95 L566.33 644.79 L568.17 645.6 L570.05 646.29 L571.94 646.93 L573.85 647.56 L575.75 648.18 L577.66 648.79 L579.58 649.38 L581.49 649.96 L583.42 650.53 L585.34 651.08 L587.27 651.63 L589.2 652.17 L591.13 652.7 L593.07 653.22 L595 653.74 L596.94 654.24 L598.89 654.73 L600.83 655.2 L602.78 655.66 L604.74 656.09 L606.7 656.51 L608.67 656.9 L610.63 657.28 L612.6 657.64 L614.58 657.99 L616.55 658.33 L618.53 658.67 L620.5 659.02 L622.47 659.36 L624.45 659.72 L626.41 660.1 L628.38 660.5 L630.34 660.9 L632.31 661.28 L634.28 661.65 L636.26 661.97 L638.24 662.24 L640.23 662.44 L642.23 662.61 L644.23 662.74 L646.23 662.87 L648.23 663 L650.23 663.14 L652.22 663.32 L654.21 663.56 L656.19 663.9 L658.15 664.3 L660.11 664.72 L662.07 665.14 L664.04 665.49 L666.03 665.75 L668.02 665.96 L670.02 666.16 L672.01 666.34 L674.01 666.51 L676.01 666.68 L678 666.83 L680 666.98 L682 667.12 L684 667.25 L686 667.37 L688 667.5 L690 667.62 L692 667.73 L694 667.85 L696 667.96 L698 668.08 L700 668.2 L702 668.32 L704 668.44 L706 668.57 L708 668.7 L710 668.82 L712 668.95 L714 669.08 L716 669.2 L718 669.33 L720 669.45 L722 669.57 L724 669.69 L726 669.81 L728 669.93 L730 670.04 L732 670.15 L734 670.26 L736.01 670.36 L738.01 670.46 L740.01 670.55 L742.01 670.64 L744.01 670.73 L746.01 670.81 L748.02 670.88 L750.02 670.95 L752.02 671.01 L754.03 671.07 L756.03 671.13 L758.03 671.18 L760.04 671.23 L762.04 671.27 L764.04 671.32 L766.05 671.37 L768.05 671.41 L770.05 671.46 L772.05 671.51 L774.06 671.56 L776.06 671.62 L778.06 671.68 L780.07 671.74 L782.07 671.81 L784.07 671.88 L786.07 671.96 L788.08 672.03 L790.08 672.11 L792.08 672.19 L794.08 672.27 L796.09 672.35 L798.09 672.44 L800.09 672.53 L802.09 672.62 L804.09 672.71 L806.09 672.81 L808.1 672.9 L810.1 673 L812.1 673.1 L814.1 673.2 L814.1 704.6 L812.1 704.56 L810.1 704.52 L808.1 704.48 L806.1 704.43 L804.1 704.39 L802.1 704.34 L800.1 704.29 L798.1 704.24 L796.1 704.19 L794.1 704.14 L792.1 704.08 L790.1 704.03 L788.1 703.97 L786.1 703.92 L784.1 703.86 L782.1 703.8 L780.1 703.74 L778.1 703.68 L776.1 703.62 L774.1 703.55 L772.1 703.48 L770.11 703.41 L768.11 703.34 L766.11 703.26 L764.11 703.19 L762.11 703.11 L760.11 703.03 L758.11 702.96 L756.11 702.88 L754.11 702.8 L752.11 702.73 L750.11 702.66 L748.11 702.59 L746.12 702.52 L744.12 702.45 L742.12 702.39 L740.12 702.33 L738.12 702.26 L736.12 702.2 L734.12 702.14 L732.12 702.08 L730.12 702.02 L728.12 701.96 L726.12 701.9 L724.12 701.84 L722.12 701.78 L720.12 701.72 L718.12 701.65 L716.12 701.59 L714.12 701.52 L712.12 701.45 L710.12 701.38 L708.13 701.3 L706.13 701.22 L704.13 701.14 L702.13 701.05 L700.13 700.96 L698.13 700.87 L696.13 700.77 L694.14 700.67 L692.14 700.57 L690.14 700.46 L688.14 700.35 L686.15 700.24 L684.15 700.12 L682.15 700 L680.16 699.87 L678.16 699.74 L676.16 699.6 L674.17 699.46 L672.17 699.32 L670.18 699.16 L668.18 699.01 L666.19 698.85 L664.2 698.66 L662.21 698.41 L660.23 698.13 L658.25 697.84 L656.27 697.61 L654.27 697.44 L652.27 697.39 L650.27 697.37 L648.27 697.36 L646.27 697.35 L644.27 697.34 L642.27 697.33 L640.27 697.32 L638.27 697.29 L636.27 697.2 L634.28 697.04 L632.29 696.83 L630.3 696.59 L628.32 696.33 L626.33 696.08 L624.35 695.86 L622.35 695.66 L620.36 695.47 L618.37 695.29 L616.38 695.12 L614.38 694.94 L612.39 694.76 L610.4 694.58 L608.41 694.39 L606.42 694.2 L604.43 693.99 L602.44 693.76 L600.45 693.52 L598.47 693.26 L596.49 692.99 L594.51 692.71 L592.53 692.41 L590.55 692.1 L588.58 691.77 L586.61 691.42 L584.64 691.06 L582.68 690.68 L580.72 690.28 L578.76 689.86 L576.82 689.4 L574.89 688.87 L572.97 688.29 L571.07 687.69 L569.16 687.06 L567.26 686.44 L565.35 685.84 L563.43 685.28 L561.53 684.68 L559.64 684.01 L557.74 683.38 L555.81 682.85 L553.84 682.54 L551.84 682.52 L549.84 682.64 L547.85 682.86 L545.88 683.15 L543.9 683.5 L541.94 683.87 L540.02 684.42 L538.15 685.14 L536.33 685.98 L534.54 686.87 L532.76 687.78 L531.04 688.8 L529.38 689.91 L527.75 691.07 L526.12 692.23 L524.45 693.34 L522.72 694.34 L520.94 695.26 L519.15 696.14 L517.33 696.98 L515.5 697.79 L513.66 698.57 L511.8 699.31 L509.94 700.03 L508.05 700.7 L506.15 701.32 L504.23 701.89 L502.31 702.45 L500.39 703.02 L498.49 703.62 L496.6 704.28 L494.71 704.93 L492.82 705.59 L490.96 706.32 L489.16 707.21 L487.53 708.36 L486.13 709.78 L484.93 711.38 L483.94 713.12 L483.2 714.98 L482.58 716.88 L482.05 718.81 L481.59 720.76 L481.2 722.72 L480.87 724.69 L480.6 726.67 L480.37 728.66 L480.16 730.65 L479.96 732.64 L479.76 734.63 L479.58 736.62 L479.41 738.62 L479.26 740.61 L479.12 742.61 L479 744.6 L478.89 746.6 L478.81 748.6 L478.75 750.6 L478.71 752.6 L478.7 754.6 Z" fill="#dddddd" stroke="none"/>
<path d="M480.1 687.1 V728.7 M469 687.1 H491.2 M469 728.7 H491.2 M526.8 666.1 V699.9 M515.7 666.1 H537.9 M515.7 699.9 H537.9 M630.5 666.1 V699.9 M619.4 666.1 H641.6 M619.4 699.9 H641.6 M734.2 666.1 V699.9 M723.1 666.1 H745.3 M723.1 699.9 H745.3" fill="none" stroke="#000080" stroke-width="2.1"/>
<circle cx="480.1" cy="707.9" r="3.8" fill="#000080"/>
<circle cx="526.8" cy="683.3" r="3.8" fill="#000080"/>
<circle cx="630.5" cy="683.3" r="3.8" fill="#000080"/>
<circle cx="734.2" cy="683" r="3.8" fill="#000080"/>
<path d="M478.7 736.5 L478.73 735 L478.77 733.49 L478.81 731.99 L478.85 730.48 L478.9 728.98 L478.95 727.48 L479 725.97 L479.05 724.47 L479.11 722.97 L479.17 721.46 L479.23 719.96 L479.3 718.46 L479.36 716.95 L479.42 715.45 L479.48 713.95 L479.54 712.44 L479.6 710.94 L479.67 709.44 L479.75 707.93 L479.83 706.43 L479.93 704.93 L480.04 703.43 L480.17 701.93 L480.31 700.43 L480.48 698.94 L480.76 697.46 L481.2 696.02 L481.78 694.63 L482.44 693.28 L483.19 691.97 L484 690.71 L484.94 689.54 L485.99 688.46 L487.14 687.49 L488.37 686.63 L489.69 685.9 L491.05 685.26 L492.44 684.68 L493.85 684.16 L495.27 683.65 L496.68 683.15 L498.1 682.65 L499.53 682.17 L500.96 681.72 L502.4 681.28 L503.84 680.85 L505.29 680.42 L506.73 679.99 L508.16 679.54 L509.59 679.07 L511.03 678.61 L512.46 678.15 L513.89 677.69 L515.32 677.21 L516.74 676.71 L518.14 676.17 L519.52 675.58 L520.88 674.92 L522.19 674.19 L523.47 673.4 L524.74 672.58 L525.99 671.75 L527.24 670.91 L528.5 670.09 L529.76 669.28 L531 668.42 L532.23 667.55 L533.46 666.68 L534.71 665.85 L536 665.08 L537.34 664.4 L538.73 663.82 L540.14 663.3 L541.57 662.82 L543.02 662.41 L544.48 662.07 L545.96 661.81 L547.45 661.58 L548.94 661.38 L550.44 661.22 L551.94 661.12 L553.44 661.11 L554.94 661.27 L556.42 661.55 L557.88 661.91 L559.33 662.31 L560.78 662.7 L562.22 663.15 L563.63 663.68 L565.02 664.25 L566.4 664.84 L567.78 665.44 L569.17 666.02 L570.58 666.55 L572 667.04 L573.43 667.51 L574.86 667.97 L576.3 668.42 L577.74 668.87 L579.18 669.3 L580.62 669.72 L582.07 670.13 L583.52 670.52 L584.97 670.91 L586.43 671.28 L587.89 671.65 L589.35 672.01 L590.82 672.36 L592.28 672.7 L593.75 673.03 L595.22 673.36 L596.69 673.68 L598.16 674 L599.63 674.3 L601.11 674.6 L602.58 674.9 L604.06 675.19 L605.54 675.47 L607.01 675.75 L608.49 676.02 L609.97 676.3 L611.45 676.57 L612.93 676.83 L614.42 677.09 L615.9 677.34 L617.39 677.58 L618.87 677.81 L620.36 678.04 L621.85 678.25 L623.34 678.44 L624.83 678.63 L626.33 678.8 L627.82 678.97 L629.32 679.13 L630.82 679.28 L632.31 679.43 L633.81 679.57 L635.31 679.7 L636.81 679.83 L638.31 679.96 L639.81 680.08 L641.31 680.19 L642.81 680.3 L644.31 680.4 L645.81 680.5 L647.31 680.59 L648.82 680.69 L650.32 680.8 L651.82 680.91 L653.32 681.03 L654.82 681.16 L656.31 681.3 L657.81 681.45 L659.31 681.6 L660.81 681.75 L662.3 681.9 L663.8 682.04 L665.3 682.17 L666.8 682.3 L668.3 682.42 L669.8 682.54 L671.3 682.65 L672.8 682.77 L674.3 682.88 L675.8 682.99 L677.3 683.09 L678.8 683.2 L680.3 683.3 L681.8 683.4 L683.31 683.5 L684.81 683.59 L686.31 683.69 L687.81 683.78 L689.31 683.86 L690.81 683.95 L692.32 684.04 L693.82 684.12 L695.32 684.2 L696.82 684.28 L698.33 684.36 L699.83 684.43 L701.33 684.51 L702.83 684.58 L704.34 684.66 L705.84 684.73 L707.34 684.8 L708.85 684.87 L710.35 684.94 L711.85 685.01 L713.36 685.07 L714.86 685.14 L716.36 685.21 L717.86 685.28 L719.37 685.34 L720.87 685.41 L722.37 685.47 L723.88 685.54 L725.38 685.6 L726.88 685.66 L728.39 685.73 L729.89 685.79 L731.39 685.85 L732.9 685.91 L734.4 685.97 L735.9 686.03 L737.41 686.09 L738.91 686.14 L740.41 686.2 L741.92 686.26 L743.42 686.31 L744.92 686.37 L746.43 686.42 L747.93 686.48 L749.44 686.53 L750.94 686.59 L752.44 686.64 L753.95 686.69 L755.45 686.74 L756.95 686.8 L758.46 686.85 L759.96 686.9 L761.47 686.95 L762.97 686.99 L764.47 687.04 L765.98 687.09 L767.48 687.14 L768.98 687.19 L770.49 687.24 L771.99 687.29 L773.5 687.33 L775 687.38 L776.5 687.43 L778.01 687.48 L779.51 687.53 L781.01 687.57 L782.52 687.62 L784.02 687.67 L785.53 687.72 L787.03 687.77 L788.53 687.81 L790.04 687.86 L791.54 687.91 L793.05 687.95 L794.55 688 L796.05 688.05 L797.56 688.1 L799.06 688.14 L800.56 688.19 L802.07 688.23 L803.57 688.28 L805.08 688.33 L806.58 688.37 L808.08 688.42 L809.59 688.46 L811.09 688.51 L812.6 688.55 L814.1 688.6" fill="none" stroke="#4169e1" stroke-width="2.7" stroke-linejoin="round"/>
<path d="M479 838.2 L479.57 835.54 L480.17 832.89 L480.79 830.24 L481.44 827.6 L482.12 824.96 L482.83 822.34 L483.55 819.72 L484.3 817.1 M491.8 795.3 L492.97 792.85 L494.23 790.46 L495.58 788.11 L497.01 785.8 L498.49 783.53 L500.02 781.29 L501.59 779.08 L503.2 776.9 M518.35 760.3 L520.46 758.62 L522.64 757.02 L524.87 755.5 L527.14 754.04 L529.45 752.63 L531.77 751.25 L534.11 749.9 L536.45 748.55 M557.1 738 L559.6 736.98 L562.12 736.01 L564.65 735.07 L567.2 734.16 L569.76 733.3 L572.33 732.46 L574.91 731.66 L577.5 730.9 M599.6 725.5 L602.29 724.86 L604.98 724.22 L607.67 723.57 L610.36 722.93 L613.06 722.31 L615.76 721.73 L618.48 721.19 L621.2 720.7 M643.8 717.7 L646.49 717.35 L649.17 717 L651.86 716.65 L654.54 716.3 L657.23 715.96 L659.92 715.63 L662.61 715.31 L665.3 715 M687.8 712.8 L690.55 712.59 L693.3 712.39 L696.05 712.2 L698.8 712.01 L701.55 711.84 L704.3 711.66 L707.05 711.48 L709.8 711.3 M732.4 709.8 L735.14 709.6 L737.87 709.39 L740.61 709.16 L743.34 708.94 L746.08 708.74 L748.82 708.55 L751.56 708.4 L754.3 708.3 M776.9 707.9 L779.63 707.83 L782.35 707.75 L785.08 707.66 L787.8 707.56 L790.53 707.45 L793.25 707.34 L795.98 707.22 L798.7 707.1" fill="none" stroke="#000" stroke-width="2.6"/>
<path d="M478.6 845 L478.96 842.32 L479.35 839.64 L479.76 836.97 L480.2 834.3 M484.48 812.83 L485.1 811.1 L485.84 809.42 M496.4 811.1 L498.21 813.11 L500.06 815.08 L501.95 817.02 L503.9 818.9 M518.15 830.92 L519.7 831.9 L521.28 832.83 M538.6 840.5 L541.2 841.17 L543.82 841.74 L546.46 842.24 L549.1 842.7 M567.67 845.32 L569.5 845.5 L571.33 845.68 M590.3 847 L592.92 847 L595.55 847 L598.18 847 L600.8 847 M619.37 847.28 L621.2 847.3 L623.03 847.31 M642.2 847.4 L644.88 847.34 L647.55 847.2 L650.22 847.06 L652.9 847 M671.37 847 L673.2 847 L675.03 847 M694 847 L696.7 846.92 L699.4 846.75 L702.1 846.58 L704.8 846.5 M723.37 846.96 L725.2 847 L727.03 847.03 M746 847.3 L748.7 847.38 L751.4 847.48 L754.1 847.59 L756.8 847.7 M775.37 848.41 L777.2 848.5 L779.03 848.6 M797.8 850 L800.55 850.18 L803.3 850.36 L806.05 850.53 L808.8 850.7" fill="none" stroke="#006400" stroke-width="2.7"/>
<path d="M478.7 747.1 L478.82 745.27 L478.95 743.44 M479.64 734.53 L479.8 732.7 L479.94 730.87 M480.74 719.38 L481.3 717.7 L482.92 718.54 M491.94 723.5 L493.7 724 L495.51 724.31 M506.57 725.47 L508.4 725.5 L510.23 725.49 M521.37 725.03 L523.2 724.9 L525 724.58 M535.13 719.15 L536.8 718.4 L538.49 717.69 M548.84 717.17 L550.6 717.7 L552.33 718.32 M561.98 724.17 L563.5 725.2 L565.01 726.24 M574.02 733.22 L575.5 734.3 L577 735.35 M586.44 741.54 L588 742.5 L589.57 743.44 M599.2 748.86 L600.8 749.75 L602.4 750.65 M612.07 756 L613.7 756.85 L615.34 757.68 M625.43 762.49 L627.1 763.25 L628.77 764.01 M639.1 768.51 L640.8 769.2 L642.51 769.87 M653.08 773.71 L654.8 774.35 L656.51 775.01 M666.87 779.09 L668.6 779.7 L670.34 780.28 M681.23 783.51 L683 784 L684.77 784.48 M695.52 787.25 L697.3 787.7 L699.08 788.15 M709.81 790.8 L711.6 791.2 L713.39 791.59 M724.4 793.75 L726.2 794.1 L728 794.45 M738.89 796.48 L740.7 796.8 L742.51 797.12 M753.49 799 L755.3 799.3 L757.11 799.6 M768.08 801.33 L769.9 801.6 L771.72 801.86 M782.88 803.37 L784.7 803.6 L786.52 803.83 M797.68 805.17 L799.5 805.4 L801.32 805.63 M810.06 806.8 L811.88 807.05 L813.7 807.3" fill="none" stroke="#ff0000" stroke-width="2.8"/>
</g>
<path d="M474.6 883.3 v-7.5 M474.6 635.6 v7.5 M552.3 883.3 v-7.5 M552.3 635.6 v7.5 M630.01 883.3 v-7.5 M630.01 635.6 v7.5 M707.71 883.3 v-7.5 M707.71 635.6 v7.5 M785.42 883.3 v-7.5 M785.42 635.6 v7.5 M474.8 883.3 h7.5 M816.8 883.3 h-7.5 M474.8 854.16 h7.5 M816.8 854.16 h-7.5 M474.8 825.02 h7.5 M816.8 825.02 h-7.5 M474.8 795.88 h7.5 M816.8 795.88 h-7.5 M474.8 766.74 h7.5 M816.8 766.74 h-7.5 M474.8 737.59 h7.5 M816.8 737.59 h-7.5 M474.8 708.45 h7.5 M816.8 708.45 h-7.5 M474.8 679.31 h7.5 M816.8 679.31 h-7.5 M474.8 650.17 h7.5 M816.8 650.17 h-7.5" fill="none" stroke="#000" stroke-width="1.7"/>
<rect x="474.8" y="635.6" width="342" height="247.7" fill="none" stroke="#000" stroke-width="3.9"/>
<text x="474.6" y="912" font-size="19.7" text-anchor="middle" textLength="9.5" lengthAdjust="spacingAndGlyphs">0</text>
<text x="552.3" y="912" font-size="19.7" text-anchor="middle" textLength="9.5" lengthAdjust="spacingAndGlyphs">5</text>
<text x="630.01" y="912" font-size="19.7" text-anchor="middle" textLength="19" lengthAdjust="spacingAndGlyphs">10</text>
<text x="707.71" y="912" font-size="19.7" text-anchor="middle" textLength="19" lengthAdjust="spacingAndGlyphs">15</text>
<text x="785.42" y="912" font-size="19.7" text-anchor="middle" textLength="19" lengthAdjust="spacingAndGlyphs">20</text>
<text x="593.9" y="948.6" font-size="19" textLength="56.8" lengthAdjust="spacingAndGlyphs">Radius</text>
<text x="655.4" y="948.6" font-size="19" textLength="41.5" lengthAdjust="spacingAndGlyphs">(kpc)</text>
<g clip-path="url(#c22)">
<path d="M854.6 745 L854.71 743 L854.82 741.01 L854.92 739.01 L855.03 737.01 L855.14 735.01 L855.26 733.02 L855.37 731.02 L855.48 729.02 L855.6 727.03 L855.71 725.03 L855.83 723.03 L855.93 721.04 L856.04 719.04 L856.15 717.04 L856.26 715.05 L856.36 713.05 L856.47 711.05 L856.58 709.05 L856.69 707.06 L856.81 705.06 L856.93 703.06 L857.05 701.07 L857.18 699.07 L857.31 697.08 L857.45 695.08 L857.59 693.09 L857.74 691.09 L857.9 689.1 L858.07 687.11 L858.24 685.11 L858.37 683.12 L858.5 681.12 L858.63 679.12 L858.76 677.13 L858.9 675.13 L859.06 673.14 L859.25 671.15 L859.48 669.16 L859.79 667.19 L860.27 665.25 L861.69 664.28 L863.64 664.71 L865.6 665.12 L867.57 665.47 L869.56 665.69 L871.55 665.69 L873.55 665.65 L875.55 665.58 L877.55 665.49 L879.55 665.38 L881.54 665.2 L883.52 664.93 L885.49 664.6 L887.46 664.21 L889.41 663.79 L891.36 663.36 L893.31 662.9 L895.24 662.38 L897.16 661.81 L899.06 661.18 L900.94 660.51 L902.8 659.77 L904.63 658.98 L906.4 658.04 L908.05 656.91 L909.62 655.68 L911.17 654.4 L912.73 653.15 L914.35 651.98 L916.07 650.97 L917.92 650.2 L919.79 649.5 L921.69 648.88 L923.62 648.34 L925.57 647.9 L927.54 647.58 L929.53 647.32 L931.51 647.09 L933.51 646.92 L935.5 646.81 L937.5 646.84 L939.48 647.09 L941.44 647.53 L943.36 648.06 L945.28 648.63 L947.21 649.15 L949.14 649.69 L951.05 650.28 L952.95 650.91 L954.84 651.56 L956.73 652.22 L958.62 652.87 L960.52 653.49 L962.43 654.07 L964.36 654.6 L966.3 655.11 L968.23 655.61 L970.18 656.08 L972.12 656.55 L974.07 657 L976.02 657.43 L977.98 657.85 L979.94 658.25 L981.9 658.64 L983.86 659.01 L985.83 659.37 L987.8 659.73 L989.77 660.07 L991.74 660.4 L993.72 660.72 L995.69 661.03 L997.67 661.34 L999.65 661.64 L1001.63 661.92 L1003.61 662.2 L1005.59 662.47 L1007.57 662.72 L1009.56 662.96 L1011.55 663.18 L1013.53 663.4 L1015.52 663.62 L1017.51 663.83 L1019.5 664.06 L1021.48 664.29 L1023.47 664.55 L1025.45 664.82 L1027.43 665.13 L1029.39 665.5 L1031.35 665.91 L1033.31 666.32 L1035.27 666.7 L1037.24 667.03 L1039.23 667.27 L1041.22 667.48 L1043.21 667.69 L1045.2 667.88 L1047.19 668.07 L1049.18 668.25 L1051.17 668.42 L1053.17 668.59 L1055.16 668.74 L1057.15 668.89 L1059.15 669.03 L1061.15 669.16 L1063.14 669.28 L1065.14 669.4 L1067.14 669.5 L1069.13 669.6 L1071.13 669.7 L1073.13 669.78 L1075.13 669.86 L1077.13 669.93 L1079.13 669.99 L1081.12 670.06 L1083.12 670.12 L1085.12 670.17 L1087.12 670.23 L1089.12 670.28 L1091.12 670.33 L1093.12 670.37 L1095.12 670.42 L1097.12 670.46 L1099.12 670.5 L1101.12 670.54 L1103.12 670.58 L1105.12 670.62 L1107.12 670.65 L1109.12 670.69 L1111.12 670.72 L1113.12 670.76 L1115.12 670.79 L1117.12 670.83 L1119.12 670.86 L1121.12 670.9 L1123.12 670.93 L1125.12 670.97 L1127.12 671 L1129.11 671.04 L1131.11 671.08 L1133.11 671.12 L1135.11 671.17 L1137.11 671.21 L1139.11 671.26 L1141.11 671.3 L1143.11 671.35 L1145.11 671.39 L1147.11 671.44 L1149.11 671.49 L1151.11 671.53 L1153.11 671.58 L1155.11 671.63 L1157.11 671.67 L1159.11 671.72 L1161.11 671.77 L1163.11 671.82 L1165.11 671.86 L1167.11 671.91 L1169.11 671.96 L1171.1 672.01 L1173.1 672.06 L1175.1 672.11 L1177.1 672.15 L1179.1 672.2 L1181.1 672.25 L1183.1 672.3 L1185.1 672.35 L1187.1 672.4 L1187.1 703.1 L1185.1 703.1 L1183.09 703.09 L1181.09 703.09 L1179.08 703.08 L1177.08 703.07 L1175.07 703.06 L1173.07 703.05 L1171.06 703.04 L1169.06 703.03 L1167.05 703.02 L1165.05 703 L1163.04 702.99 L1161.04 702.97 L1159.03 702.96 L1157.03 702.94 L1155.02 702.93 L1153.02 702.91 L1151.01 702.89 L1149.01 702.88 L1147.01 702.86 L1145 702.83 L1143 702.81 L1140.99 702.79 L1138.99 702.76 L1136.98 702.73 L1134.98 702.7 L1132.97 702.67 L1130.97 702.64 L1128.96 702.6 L1126.96 702.57 L1124.95 702.53 L1122.95 702.49 L1120.95 702.46 L1118.94 702.42 L1116.94 702.38 L1114.93 702.33 L1112.93 702.29 L1110.92 702.25 L1108.92 702.21 L1106.92 702.16 L1104.91 702.12 L1102.91 702.07 L1100.9 702.02 L1098.9 701.98 L1096.89 701.93 L1094.89 701.88 L1092.89 701.84 L1090.88 701.79 L1088.88 701.74 L1086.87 701.69 L1084.87 701.65 L1082.86 701.6 L1080.86 701.55 L1078.86 701.5 L1076.85 701.45 L1074.85 701.39 L1072.84 701.34 L1070.84 701.28 L1068.84 701.22 L1066.83 701.16 L1064.83 701.1 L1062.82 701.03 L1060.82 700.96 L1058.82 700.88 L1056.81 700.8 L1054.81 700.72 L1052.81 700.63 L1050.81 700.54 L1048.8 700.44 L1046.8 700.33 L1044.8 700.21 L1042.8 700.04 L1040.81 699.83 L1038.82 699.6 L1036.83 699.34 L1034.84 699.08 L1032.85 698.82 L1030.86 698.58 L1028.87 698.36 L1026.88 698.17 L1024.88 698.02 L1022.88 697.9 L1020.87 697.79 L1018.87 697.69 L1016.87 697.59 L1014.87 697.49 L1012.87 697.37 L1010.87 697.23 L1008.87 697.08 L1006.87 696.92 L1004.87 696.74 L1002.88 696.56 L1000.88 696.36 L998.89 696.16 L996.89 695.95 L994.9 695.74 L992.91 695.52 L990.91 695.29 L988.92 695.07 L986.93 694.84 L984.94 694.6 L982.95 694.35 L980.96 694.1 L978.97 693.84 L976.99 693.57 L975 693.29 L973.02 693 L971.03 692.71 L969.05 692.4 L967.07 692.08 L965.1 691.74 L963.13 691.37 L961.16 690.98 L959.2 690.58 L957.24 690.16 L955.28 689.73 L953.32 689.3 L951.36 688.89 L949.4 688.48 L947.43 688.07 L945.48 687.6 L943.54 687.11 L941.59 686.64 L939.62 686.27 L937.63 686.04 L935.63 686.01 L933.63 686.12 L931.63 686.32 L929.64 686.58 L927.67 686.9 L925.69 687.26 L923.72 687.64 L921.79 688.17 L919.91 688.86 L918.06 689.64 L916.24 690.49 L914.44 691.35 L912.62 692.21 L910.79 693.02 L908.92 693.74 L907.03 694.42 L905.15 695.09 L903.25 695.76 L901.36 696.41 L899.46 697.04 L897.55 697.67 L895.64 698.27 L893.72 698.86 L891.8 699.43 L889.87 699.98 L887.95 700.54 L886.02 701.08 L884.09 701.61 L882.15 702.12 L880.2 702.59 L878.24 703.02 L876.27 703.39 L874.28 703.66 L872.29 703.85 L870.29 704.02 L868.29 704.2 L866.31 704.48 L864.44 705.14 L863.39 706.83 L862.75 708.73 L862.24 710.67 L861.78 712.62 L861.32 714.57 L860.79 716.51 L860.25 718.44 L859.71 720.37 L859.19 722.3 L858.68 724.24 L858.18 726.19 L857.72 728.14 L857.28 730.09 L856.88 732.06 L856.52 734.03 L856.21 736.01 L855.96 738 L855.76 739.99 L855.58 741.99 L855.4 743.99 L855.24 745.98 L855.09 747.98 L854.95 749.98 L854.83 751.99 L854.73 753.99 L854.66 755.99 L854.62 758 L854.6 760 Z" fill="#dddddd" stroke="none"/>
<path d="M853.8 687.5 V729 M842.7 687.5 H864.9 M842.7 729 H864.9 M906.8 666.4 V700.3 M895.7 666.4 H917.9 M895.7 700.3 H917.9 M1025.2 666.7 V700.6 M1014.1 666.7 H1036.3 M1014.1 700.6 H1036.3 M1143.1 666.7 V700.6 M1132 666.7 H1154.2 M1132 700.6 H1154.2" fill="none" stroke="#000080" stroke-width="2.1"/>
<circle cx="853.8" cy="708.3" r="3.8" fill="#000080"/>
<circle cx="906.8" cy="683.8" r="3.8" fill="#000080"/>
<circle cx="1025.2" cy="684" r="3.8" fill="#000080"/>
<circle cx="1143.1" cy="683.4" r="3.8" fill="#000080"/>
<path d="M852.5 823.9 L852.52 822.39 L852.54 820.88 L852.57 819.36 L852.59 817.85 L852.62 816.34 L852.64 814.83 L852.67 813.32 L852.7 811.81 L852.73 810.29 L852.76 808.78 L852.79 807.27 L852.82 805.76 L852.85 804.25 L852.88 802.74 L852.92 801.23 L852.95 799.71 L852.98 798.2 L853.02 796.69 L853.06 795.18 L853.09 793.67 L853.13 792.16 L853.17 790.65 L853.21 789.13 L853.24 787.62 L853.28 786.11 L853.32 784.6 L853.36 783.09 L853.4 781.58 L853.44 780.07 L853.48 778.55 L853.53 777.04 L853.57 775.53 L853.62 774.02 L853.66 772.51 L853.71 771 L853.76 769.49 L853.81 767.98 L853.86 766.47 L853.92 764.95 L853.97 763.44 L854.03 761.93 L854.08 760.42 L854.14 758.91 L854.2 757.4 L854.25 755.89 L854.31 754.38 L854.36 752.87 L854.42 751.36 L854.47 749.85 L854.52 748.33 L854.57 746.82 L854.62 745.31 L854.67 743.8 L854.73 742.29 L854.79 740.78 L854.85 739.27 L854.91 737.76 L854.98 736.25 L855.06 734.74 L855.14 733.23 L855.22 731.72 L855.32 730.21 L855.43 728.7 L855.57 727.2 L855.74 725.69 L855.92 724.19 L856.11 722.69 L856.32 721.2 L856.54 719.7 L856.77 718.21 L857 716.71 L857.23 715.22 L857.46 713.72 L857.69 712.23 L857.91 710.73 L858.12 709.24 L858.33 707.74 L858.54 706.24 L858.75 704.75 L858.96 703.25 L859.17 701.75 L859.38 700.25 L859.6 698.76 L859.81 697.26 L860.03 695.76 L860.25 694.27 L860.47 692.77 L860.69 691.28 L860.91 689.78 L861.13 688.29 L861.35 686.79 L861.57 685.3 L861.8 683.8 L863.28 684.06 L864.77 684.26 L866.26 684.41 L867.76 684.49 L869.26 684.49 L870.76 684.42 L872.26 684.28 L873.75 684.1 L875.24 683.89 L876.72 683.66 L878.21 683.43 L879.69 683.19 L881.17 682.91 L882.63 682.59 L884.1 682.25 L885.55 681.88 L887.01 681.5 L888.46 681.12 L889.91 680.73 L891.37 680.36 L892.82 679.99 L894.28 679.64 L895.74 679.28 L897.2 678.91 L898.65 678.52 L900.09 678.1 L901.52 677.65 L902.94 677.14 L904.32 676.55 L905.64 675.84 L906.92 675.05 L908.17 674.22 L909.42 673.39 L910.69 672.59 L912 671.85 L913.35 671.18 L914.69 670.52 L916.05 669.87 L917.42 669.26 L918.82 668.7 L920.24 668.22 L921.69 667.83 L923.15 667.5 L924.62 667.19 L926.1 666.92 L927.59 666.69 L929.08 666.51 L930.57 666.39 L932.07 666.3 L933.57 666.22 L935.07 666.16 L936.58 666.11 L938.08 666.1 L939.57 666.22 L941.04 666.53 L942.49 666.94 L943.91 667.42 L945.34 667.9 L946.77 668.34 L948.22 668.73 L949.67 669.12 L951.12 669.53 L952.57 669.93 L954.01 670.34 L955.46 670.74 L956.91 671.13 L958.36 671.51 L959.82 671.88 L961.27 672.25 L962.73 672.62 L964.19 672.98 L965.65 673.34 L967.11 673.69 L968.57 674.03 L970.04 674.36 L971.51 674.68 L972.98 674.98 L974.45 675.27 L975.93 675.54 L977.41 675.81 L978.89 676.06 L980.37 676.31 L981.85 676.56 L983.33 676.79 L984.82 677.02 L986.3 677.25 L987.79 677.47 L989.27 677.69 L990.76 677.91 L992.25 678.13 L993.73 678.35 L995.22 678.57 L996.71 678.79 L998.19 679.01 L999.68 679.23 L1001.16 679.45 L1002.65 679.68 L1004.13 679.9 L1005.62 680.12 L1007.11 680.33 L1008.59 680.54 L1010.08 680.75 L1011.57 680.95 L1013.06 681.14 L1014.55 681.33 L1016.04 681.5 L1017.53 681.67 L1019.03 681.84 L1020.52 682 L1022.02 682.15 L1023.51 682.3 L1025.01 682.44 L1026.5 682.59 L1028 682.72 L1029.49 682.86 L1030.99 682.99 L1032.49 683.12 L1033.98 683.26 L1035.48 683.39 L1036.97 683.52 L1038.47 683.66 L1039.97 683.79 L1041.46 683.93 L1042.96 684.06 L1044.46 684.18 L1045.95 684.31 L1047.45 684.43 L1048.95 684.55 L1050.45 684.66 L1051.94 684.77 L1053.44 684.88 L1054.94 684.97 L1056.44 685.06 L1057.94 685.15 L1059.44 685.22 L1060.94 685.29 L1062.44 685.35 L1063.94 685.41 L1065.44 685.47 L1066.95 685.52 L1068.45 685.57 L1069.95 685.62 L1071.45 685.67 L1072.95 685.72 L1074.45 685.77 L1075.95 685.81 L1077.46 685.86 L1078.96 685.9 L1080.46 685.94 L1081.96 685.98 L1083.46 686.02 L1084.96 686.06 L1086.47 686.09 L1087.97 686.13 L1089.47 686.16 L1090.97 686.2 L1092.47 686.23 L1093.97 686.26 L1095.48 686.29 L1096.98 686.32 L1098.48 686.35 L1099.98 686.38 L1101.48 686.41 L1102.99 686.44 L1104.49 686.46 L1105.99 686.49 L1107.49 686.52 L1108.99 686.54 L1110.5 686.57 L1112 686.59 L1113.5 686.62 L1115 686.64 L1116.5 686.66 L1118.01 686.68 L1119.51 686.7 L1121.01 686.73 L1122.51 686.75 L1124.01 686.77 L1125.52 686.79 L1127.02 686.8 L1128.52 686.82 L1130.02 686.84 L1131.52 686.86 L1133.03 686.88 L1134.53 686.9 L1136.03 686.92 L1137.53 686.93 L1139.03 686.95 L1140.54 686.97 L1142.04 686.99 L1143.54 687 L1145.04 687.02 L1146.54 687.04 L1148.05 687.06 L1149.55 687.07 L1151.05 687.09 L1152.55 687.11 L1154.05 687.13 L1155.56 687.15 L1157.06 687.16 L1158.56 687.18 L1160.06 687.2 L1161.56 687.22 L1163.07 687.24 L1164.57 687.25 L1166.07 687.27 L1167.57 687.29 L1169.08 687.3 L1170.58 687.32 L1172.08 687.34 L1173.58 687.35 L1175.08 687.37 L1176.59 687.39 L1178.09 687.4 L1179.59 687.42 L1181.09 687.44 L1182.59 687.45 L1184.1 687.47 L1185.6 687.48 L1187.1 687.5" fill="none" stroke="#4169e1" stroke-width="2.7" stroke-linejoin="round"/>
<path d="M852.3 842 L853.09 839.47 L853.92 836.95 L854.79 834.45 L855.69 831.95 L856.62 829.47 L857.58 827 L858.58 824.55 L859.6 822.1 M870.1 801.3 L871.59 799.03 L873.16 796.81 L874.8 794.65 L876.49 792.52 L878.23 790.44 L880.02 788.39 L881.84 786.38 L883.7 784.4 M900.6 769.4 L902.81 767.82 L905.07 766.3 L907.36 764.84 L909.67 763.42 L912.01 762.03 L914.36 760.67 L916.73 759.33 L919.1 758 M939.5 747.65 L942 746.62 L944.51 745.64 L947.04 744.7 L949.58 743.78 L952.13 742.9 L954.68 742.02 L957.24 741.16 L959.8 740.3 M981.4 733.5 L984.06 732.8 L986.72 732.12 L989.39 731.47 L992.06 730.84 L994.74 730.22 L997.42 729.63 L1000.11 729.06 L1002.8 728.5 M1025 724.5 L1027.74 723.98 L1030.47 723.45 L1033.2 722.9 L1035.93 722.35 L1038.67 721.82 L1041.4 721.31 L1044.15 720.83 L1046.9 720.4 M1069.2 717.7 L1071.91 717.37 L1074.62 717.03 L1077.33 716.68 L1080.04 716.34 L1082.75 716.01 L1085.47 715.68 L1088.18 715.38 L1090.9 715.1 M1113.7 713.2 L1116.44 712.96 L1119.17 712.72 L1121.91 712.47 L1124.65 712.23 L1127.38 711.98 L1130.12 711.74 L1132.86 711.52 L1135.6 711.3 M1157.7 709.8 L1160.48 709.59 L1163.25 709.36 L1166.03 709.14 L1168.8 708.9 L1171.58 708.66 L1174.35 708.41 L1177.13 708.16 L1179.9 707.9" fill="none" stroke="#000" stroke-width="2.6"/>
<path d="M852 843 L852.25 840.29 L852.58 837.58 L852.96 834.89 L853.4 832.2 M858.53 813.07 L859.3 811.4 L860.16 809.78 M871.6 809.9 L873.59 811.96 L875.51 814.09 L877.45 816.2 L879.5 818.2 M894.22 829.47 L895.8 830.4 L897.41 831.29 M914.6 838.7 L917.19 839.52 L919.81 840.27 L922.44 840.93 L925.1 841.5 M943.38 844.08 L945.2 844.3 L947.02 844.53 M965.9 846.5 L968.6 846.5 L971.3 846.5 L974 846.5 L976.7 846.5 M995.37 847.27 L997.2 847.3 L999.03 847.31 M1017.85 847.4 L1020.51 847.44 L1023.17 847.51 L1025.84 847.57 L1028.5 847.6 M1047.37 847.31 L1049.2 847.3 L1051.04 847.3 M1070 847.3 L1072.63 847.26 L1075.25 847.17 L1077.87 847.07 L1080.5 847 M1099.07 846.8 L1100.9 846.8 L1102.73 846.8 M1121.5 846.8 L1124.25 846.82 L1127 846.88 L1129.75 846.94 L1132.5 847 M1151.07 847.27 L1152.9 847.3 L1154.73 847.33 M1173.5 847.7 L1176.23 847.81 L1178.95 847.95 L1181.68 848.12 L1184.4 848.3" fill="none" stroke="#006400" stroke-width="2.7"/>
<path d="M852.3 748.6 L852.41 746.77 L852.53 744.94 M853.32 735.33 L853.5 733.5 L853.66 731.67 M854.63 720.83 L855.3 719.2 L856.98 719.91 M866.42 724.44 L868.2 724.9 L870.01 725.19 M881.07 726.27 L882.9 726.4 L884.73 726.53 M895.87 727.18 L897.7 727.2 L899.53 727.07 M909.87 723.51 L911.6 722.9 L913.33 722.29 M923.67 718.54 L925.5 718.4 L927.33 718.46 M938.14 720.58 L939.9 721.1 L941.61 721.75 M951.08 728.27 L952.6 729.3 L954.14 730.3 M963.53 736.35 L965.1 737.3 L966.68 738.24 M976.27 743.65 L977.9 744.5 L979.54 745.33 M989.55 750.01 L991.2 750.8 L992.85 751.61 M1003.14 756.82 L1004.8 757.6 L1006.47 758.35 M1016.4 762.51 L1018.1 763.2 L1019.8 763.9 M1030.28 768.11 L1032 768.75 L1033.73 769.37 M1044.3 772.9 L1046.05 773.45 L1047.81 773.98 M1058.59 777.02 L1060.35 777.55 L1062.1 778.11 M1073.04 781.88 L1074.8 782.4 L1076.57 782.89 M1087.31 785.48 L1089.1 785.9 L1090.89 786.32 M1101.61 788.81 L1103.4 789.2 L1105.19 789.59 M1116.3 791.85 L1118.1 792.2 L1119.9 792.54 M1130.69 794.49 L1132.5 794.8 L1134.31 795.1 M1145.39 796.82 L1147.2 797.1 L1149.01 797.38 M1160.08 799.04 L1161.9 799.3 L1163.72 799.55 M1173.26 800.84 L1175.08 801.07 L1176.9 801.3" fill="none" stroke="#ff0000" stroke-width="2.8"/>
</g>
<path d="M847.45 883.3 v-7.5 M847.45 635.6 v7.5 M925.15 883.3 v-7.5 M925.15 635.6 v7.5 M1002.86 883.3 v-7.5 M1002.86 635.6 v7.5 M1080.56 883.3 v-7.5 M1080.56 635.6 v7.5 M1158.27 883.3 v-7.5 M1158.27 635.6 v7.5 M847.9 883.3 h7.5 M1189.9 883.3 h-7.5 M847.9 854.16 h7.5 M1189.9 854.16 h-7.5 M847.9 825.02 h7.5 M1189.9 825.02 h-7.5 M847.9 795.88 h7.5 M1189.9 795.88 h-7.5 M847.9 766.74 h7.5 M1189.9 766.74 h-7.5 M847.9 737.59 h7.5 M1189.9 737.59 h-7.5 M847.9 708.45 h7.5 M1189.9 708.45 h-7.5 M847.9 679.31 h7.5 M1189.9 679.31 h-7.5 M847.9 650.17 h7.5 M1189.9 650.17 h-7.5" fill="none" stroke="#000" stroke-width="1.7"/>
<rect x="847.9" y="635.6" width="342" height="247.7" fill="none" stroke="#000" stroke-width="3.9"/>
<text x="847.45" y="912" font-size="19.7" text-anchor="middle" textLength="9.5" lengthAdjust="spacingAndGlyphs">0</text>
<text x="925.15" y="912" font-size="19.7" text-anchor="middle" textLength="9.5" lengthAdjust="spacingAndGlyphs">5</text>
<text x="1002.86" y="912" font-size="19.7" text-anchor="middle" textLength="19" lengthAdjust="spacingAndGlyphs">10</text>
<text x="1080.56" y="912" font-size="19.7" text-anchor="middle" textLength="19" lengthAdjust="spacingAndGlyphs">15</text>
<text x="1158.27" y="912" font-size="19.7" text-anchor="middle" textLength="19" lengthAdjust="spacingAndGlyphs">20</text>
<text x="966.75" y="948.6" font-size="19" textLength="56.8" lengthAdjust="spacingAndGlyphs">Radius</text>
<text x="1028.25" y="948.6" font-size="19" textLength="41.5" lengthAdjust="spacingAndGlyphs">(kpc)</text>
<text transform="translate(14.1 759.45) rotate(-90)" font-size="19" text-anchor="middle" textLength="79.3" lengthAdjust="spacingAndGlyphs">UGC6176</text>
<text transform="translate(36.4 759.45) rotate(-90)" x="-100.25" font-size="19" textLength="68.3" lengthAdjust="spacingAndGlyphs">Rotation</text>
<text transform="translate(36.4 759.45) rotate(-90)" x="-27.05" font-size="19" textLength="65.5" lengthAdjust="spacingAndGlyphs">velocity</text>
<text transform="translate(36.4 759.45) rotate(-90)" x="43.35" font-size="19" textLength="57.1" lengthAdjust="spacingAndGlyphs">(km/s)</text>
</svg>
</body></html>
